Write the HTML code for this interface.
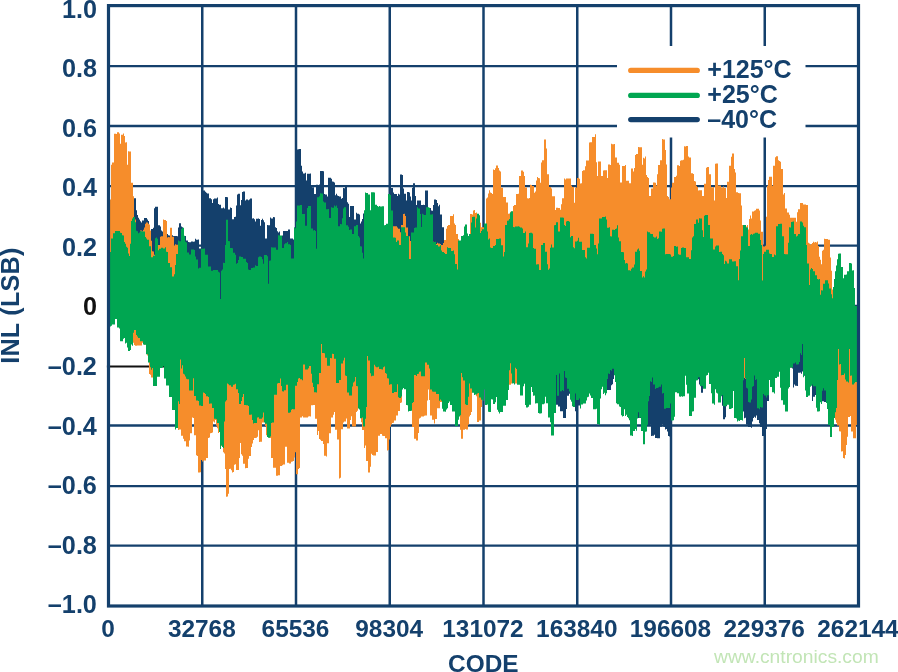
<!DOCTYPE html>
<html><head><meta charset="utf-8"><style>html,body{margin:0;padding:0;background:#fff;}body{width:898px;height:672px;position:relative;overflow:hidden;font-family:"Liberation Sans",sans-serif;}</style></head><body><svg width="898" height="672" viewBox="0 0 898 672" style="position:absolute;left:0;top:0;will-change:transform">
<rect width="898" height="672" fill="#fff"/>
<line x1="202.25" y1="5.6" x2="202.25" y2="606.0" stroke="#14406c" stroke-width="2.5"/>
<line x1="296.00" y1="5.6" x2="296.00" y2="606.0" stroke="#14406c" stroke-width="2.5"/>
<line x1="389.75" y1="5.6" x2="389.75" y2="606.0" stroke="#14406c" stroke-width="2.5"/>
<line x1="483.50" y1="5.6" x2="483.50" y2="606.0" stroke="#14406c" stroke-width="2.5"/>
<line x1="577.25" y1="5.6" x2="577.25" y2="606.0" stroke="#14406c" stroke-width="2.5"/>
<line x1="671.00" y1="5.6" x2="671.00" y2="606.0" stroke="#14406c" stroke-width="2.5"/>
<line x1="764.75" y1="5.6" x2="764.75" y2="606.0" stroke="#14406c" stroke-width="2.5"/>
<line x1="108.5" y1="66.20" x2="858.5" y2="66.20" stroke="#14406c" stroke-width="2.3"/>
<line x1="108.5" y1="126.00" x2="858.5" y2="126.00" stroke="#14406c" stroke-width="2.3"/>
<line x1="108.5" y1="186.20" x2="858.5" y2="186.20" stroke="#14406c" stroke-width="2.3"/>
<line x1="108.5" y1="245.70" x2="858.5" y2="245.70" stroke="#14406c" stroke-width="2.3"/>
<line x1="108.5" y1="306.00" x2="858.5" y2="306.00" stroke="#14406c" stroke-width="2.3"/>
<line x1="106.9" y1="366.50" x2="858.5" y2="366.50" stroke="#111" stroke-width="1.8"/>
<line x1="108.5" y1="425.50" x2="858.5" y2="425.50" stroke="#14406c" stroke-width="2.3"/>
<line x1="108.5" y1="486.20" x2="858.5" y2="486.20" stroke="#14406c" stroke-width="2.3"/>
<line x1="108.5" y1="545.70" x2="858.5" y2="545.70" stroke="#14406c" stroke-width="2.3"/>
<rect x="617" y="46" width="188.5" height="91.5" fill="#fff"/>
<path d="M109,298.1L109,298.1L110,298.1L110,289.5L111,289.5L111,280.8L112,280.8L112,280.8L113,280.8L113,279.5L114,279.5L114,276.7L115,276.7L115,275.0L116,275.0L116,275.0L117,275.0L117,275.6L118,275.6L118,279.4L119,279.4L119,279.7L120,279.7L120,281.0L121,281.0L121,287.4L122,287.4L122,287.3L123,287.3L123,287.3L124,287.3L124,290.0L125,290.0L125,291.3L126,291.3L126,295.1L127,295.1L127,296.3L128,296.3L128,301.5L129,301.5L129,303.5L130,303.5L130,295.0L131,295.0L131,283.6L132,283.6L132,218.5L133,218.5L133,198.3L134,198.3L134,198.3L135,198.3L135,198.3L136,198.3L136,210.2L137,210.2L137,214.9L138,214.9L138,217.7L139,217.7L139,219.5L140,219.5L140,221.3L141,221.3L141,222.5L142,222.5L142,220.5L143,220.5L143,220.5L144,220.5L144,218.1L145,218.1L145,218.1L146,218.1L146,218.1L147,218.1L147,219.4L148,219.4L148,221.0L149,221.0L149,226.3L150,226.3L150,231.1L151,231.1L151,229.1L152,229.1L152,229.1L153,229.1L153,227.7L154,227.7L154,208.2L155,208.2L155,206.8L156,206.8L156,206.8L157,206.8L157,206.8L158,206.8L158,225.2L159,225.2L159,225.2L160,225.2L160,226.6L161,226.6L161,230.6L162,230.6L162,231.6L163,231.6L163,232.4L164,232.4L164,233.2L165,233.2L165,233.5L166,233.5L166,234.2L167,234.2L167,234.0L168,234.0L168,235.3L169,235.3L169,235.5L170,235.5L170,235.7L171,235.7L171,235.0L172,235.0L172,235.2L173,235.2L173,235.9L174,235.9L174,236.1L175,236.1L175,235.9L176,235.9L176,236.0L177,236.0L177,236.2L178,236.2L178,227.4L179,227.4L179,223.2L180,223.2L180,223.2L181,223.2L181,226.5L182,226.5L182,227.2L183,227.2L183,236.1L184,236.1L184,236.1L185,236.1L185,236.1L186,236.1L186,240.6L187,240.6L187,240.5L188,240.5L188,242.1L189,242.1L189,242.3L190,242.3L190,242.2L191,242.2L191,241.4L192,241.4L192,241.6L193,241.6L193,241.8L194,241.8L194,241.6L195,241.6L195,238.7L196,238.7L196,239.8L197,239.8L197,239.8L198,239.8L198,239.6L199,239.6L199,248.6L200,248.6L200,248.6L201,248.6L201,191.1L202,191.1L202,190.5L203,190.5L203,190.5L204,190.5L204,190.5L205,190.5L205,191.8L206,191.8L206,192.7L207,192.7L207,193.6L208,193.6L208,193.6L209,193.6L209,198.2L210,198.2L210,198.2L211,198.2L211,199.2L212,199.2L212,202.9L213,202.9L213,199.3L214,199.3L214,198.5L215,198.5L215,198.5L216,198.5L216,198.5L217,198.5L217,197.4L218,197.4L218,204.1L219,204.1L219,204.8L220,204.8L220,204.8L221,204.8L221,208.2L222,208.2L222,208.2L223,208.2L223,207.4L224,207.4L224,208.5L225,208.5L225,197.0L226,197.0L226,197.0L227,197.0L227,197.3L228,197.3L228,209.5L229,209.5L229,209.5L230,209.5L230,207.5L231,207.5L231,208.0L232,208.0L232,219.3L233,219.3L233,219.3L234,219.3L234,217.0L235,217.0L235,216.7L236,216.7L236,205.5L237,205.5L237,194.4L238,194.4L238,193.7L239,193.7L239,193.7L240,193.7L240,205.3L241,205.3L241,200.1L242,200.1L242,192.1L243,192.1L243,191.4L244,191.4L244,191.4L245,191.4L245,200.6L246,200.6L246,199.5L247,199.5L247,199.5L248,199.5L248,200.2L249,200.2L249,199.4L250,199.4L250,198.4L251,198.4L251,198.4L252,198.4L252,218.5L253,218.5L253,218.3L254,218.3L254,219.2L255,219.2L255,221.6L256,221.6L256,218.8L257,218.8L257,218.8L258,218.8L258,218.6L259,218.6L259,219.0L260,219.0L260,225.7L261,225.7L261,220.1L262,220.1L262,218.8L263,218.8L263,220.3L264,220.3L264,222.3L265,222.3L265,238.4L266,238.4L266,238.4L267,238.4L267,225.0L268,225.0L268,225.3L269,225.3L269,225.3L270,225.3L270,217.5L271,217.5L271,218.5L272,218.5L272,218.5L273,218.5L273,217.1L274,217.1L274,217.2L275,217.2L275,227.2L276,227.2L276,227.9L277,227.9L277,231.3L278,231.3L278,232.6L279,232.6L279,231.6L280,231.6L280,236.1L281,236.1L281,237.0L282,237.0L282,235.5L283,235.5L283,230.9L284,230.9L284,230.9L285,230.9L285,231.0L286,231.0L286,231.0L287,231.0L287,231.0L288,231.0L288,229.5L289,229.5L289,229.5L290,229.5L290,238.6L291,238.6L291,238.6L292,238.6L292,238.6L293,238.6L293,239.5L294,239.5L294,245.6L295,245.6L295,245.6L296,245.6L296,149.4L297,149.4L297,149.4L298,149.4L298,149.2L299,149.2L299,149.1L300,149.1L300,149.1L301,149.1L301,165.8L302,165.8L302,171.4L303,171.4L303,173.6L304,173.6L304,173.6L305,173.6L305,172.8L306,172.8L306,180.4L307,180.4L307,173.7L308,173.7L308,173.7L309,173.7L309,173.7L310,173.7L310,173.5L311,173.5L311,187.1L312,187.1L312,187.2L313,187.2L313,187.2L314,187.2L314,193.9L315,193.9L315,194.1L316,194.1L316,184.8L317,184.8L317,184.8L318,184.8L318,185.2L319,185.2L319,184.4L320,184.4L320,171.0L321,171.0L321,171.0L322,171.0L322,170.9L323,170.9L323,171.3L324,171.3L324,194.1L325,194.1L325,194.4L326,194.4L326,194.4L327,194.4L327,196.6L328,196.6L328,177.7L329,177.7L329,177.7L330,177.7L330,177.7L331,177.7L331,178.7L332,178.7L332,181.4L333,181.4L333,181.8L334,181.8L334,182.6L335,182.6L335,195.2L336,195.2L336,193.7L337,193.7L337,195.5L338,195.5L338,195.9L339,195.9L339,196.6L340,196.6L340,196.6L341,196.6L341,198.8L342,198.8L342,198.1L343,198.1L343,188.1L344,188.1L344,188.2L345,188.2L345,185.4L346,185.4L346,185.4L347,185.4L347,202.2L348,202.2L348,203.7L349,203.7L349,217.1L350,217.1L350,206.1L351,206.1L351,206.1L352,206.1L352,206.1L353,206.1L353,206.0L354,206.0L354,219.5L355,219.5L355,219.5L356,219.5L356,212.8L357,212.8L357,213.8L358,213.8L358,213.8L359,213.8L359,214.4L360,214.4L360,223.4L361,223.4L361,221.4L362,221.4L362,219.1L363,219.1L363,213.6L364,213.6L364,213.5L365,213.5L365,300.9L366,300.9L366,275.0L367,275.0L367,274.4L368,274.4L368,275.5L369,275.5L369,278.5L370,278.5L370,286.3L371,286.3L371,285.5L372,285.5L372,284.4L373,284.4L373,276.9L374,276.9L374,279.0L375,279.0L375,285.0L376,285.0L376,285.7L377,285.7L377,286.2L378,286.2L378,286.6L379,286.6L379,286.6L380,286.6L380,287.7L381,287.7L381,287.7L382,287.7L382,285.8L383,285.8L383,286.7L384,286.7L384,296.1L385,296.1L385,296.1L386,296.1L386,298.3L387,298.3L387,298.4L388,298.4L388,223.3L389,223.3L389,188.3L390,188.3L390,188.3L391,188.3L391,187.9L392,187.9L392,187.9L393,187.9L393,192.4L394,192.4L394,194.1L395,194.1L395,194.1L396,194.1L396,194.0L397,194.0L397,196.0L398,196.0L398,193.8L399,193.8L399,194.6L400,194.6L400,174.5L401,174.5L401,174.5L402,174.5L402,175.1L403,175.1L403,188.5L404,188.5L404,193.7L405,193.7L405,193.7L406,193.7L406,200.4L407,200.4L407,192.1L408,192.1L408,192.1L409,192.1L409,192.4L410,192.4L410,196.5L411,196.5L411,200.4L412,200.4L412,187.8L413,187.8L413,183.2L414,183.2L414,183.2L415,183.2L415,196.1L416,196.1L416,205.1L417,205.1L417,200.6L418,200.6L418,200.6L419,200.6L419,200.5L420,200.5L420,200.5L421,200.5L421,205.0L422,205.0L422,205.1L423,205.1L423,204.8L424,204.8L424,205.0L425,205.0L425,190.6L426,190.6L426,190.6L427,190.6L427,190.6L428,190.6L428,208.0L429,208.0L429,208.0L430,208.0L430,208.0L431,208.0L431,210.4L432,210.4L432,210.8L433,210.8L433,205.0L434,205.0L434,199.6L435,199.6L435,199.6L436,199.6L436,199.9L437,199.9L437,203.0L438,203.0L438,206.2L439,206.2L439,204.8L440,204.8L440,214.4L441,214.4L441,214.4L442,214.4L442,227.2L443,227.2L443,227.2L444,227.2L444,240.6L445,240.6L445,240.6L446,240.6L446,331.8L447,331.8L447,326.6L448,326.6L448,325.1L449,325.1L449,325.1L450,325.1L450,325.2L451,325.2L451,327.4L452,327.4L452,327.4L453,327.4L453,332.0L454,332.0L454,333.9L455,333.9L455,338.7L456,338.7L456,346.3L457,346.3L457,346.7L458,346.7L458,328.6L459,328.6L459,328.5L460,328.5L460,307.4L461,307.4L461,305.1L462,305.1L462,305.9L463,305.9L463,306.7L464,306.7L464,303.4L465,303.4L465,303.4L466,303.4L466,315.8L467,315.8L467,316.8L468,316.8L468,310.2L469,310.2L469,309.0L470,309.0L470,309.4L471,309.4L471,306.1L472,306.1L472,304.7L473,304.7L473,304.7L474,304.7L474,305.0L475,305.0L475,311.2L476,311.2L476,306.1L477,306.1L477,305.4L478,305.4L478,303.9L479,303.9L479,305.4L480,305.4L480,315.1L481,315.1L481,315.1L482,315.1L482,315.1L483,315.1L483,309.6L484,309.6L484,307.6L485,307.6L485,306.2L486,306.2L486,314.0L487,314.0L487,317.9L488,317.9L488,321.9L489,321.9L489,325.2L490,325.2L490,324.9L491,324.9L491,323.5L492,323.5L492,323.5L493,323.5L493,323.5L494,323.5L494,324.0L495,324.0L495,322.7L496,322.7L496,318.7L497,318.7L497,318.7L498,318.7L498,323.0L499,323.0L499,324.0L500,324.0L500,324.9L501,324.9L501,328.8L502,328.8L502,330.3L503,330.3L503,331.0L504,331.0L504,329.3L505,329.3L505,313.1L506,313.1L506,312.6L507,312.6L507,306.2L508,306.2L508,296.4L509,296.4L509,293.0L510,293.0L510,289.9L511,289.9L511,289.9L512,289.9L512,294.4L513,294.4L513,305.8L514,305.8L514,298.3L515,298.3L515,297.0L516,297.0L516,297.0L517,297.0L517,297.6L518,297.6L518,305.4L519,305.4L519,305.6L520,305.6L520,305.9L521,305.9L521,311.5L522,311.5L522,309.5L523,309.5L523,308.2L524,308.2L524,308.2L525,308.2L525,308.5L526,308.5L526,326.6L527,326.6L527,326.2L528,326.2L528,324.1L529,324.1L529,318.8L530,318.8L530,309.7L531,309.7L531,309.8L532,309.8L532,309.7L533,309.7L533,320.0L534,320.0L534,321.6L535,321.6L535,321.9L536,321.9L536,333.3L537,333.3L537,333.3L538,333.3L538,334.0L539,334.0L539,341.7L540,341.7L540,341.7L541,341.7L541,324.7L542,324.7L542,324.4L543,324.4L543,324.4L544,324.4L544,324.4L545,324.4L545,324.9L546,324.9L546,324.9L547,324.9L547,334.5L548,334.5L548,337.2L549,337.2L549,343.9L550,343.9L550,338.0L551,338.0L551,338.0L552,338.0L552,341.7L553,341.7L553,330.5L554,330.5L554,319.3L555,319.3L555,300.2L556,300.2L556,300.2L557,300.2L557,300.2L558,300.2L558,302.7L559,302.7L559,302.8L560,302.8L560,302.8L561,302.8L561,304.0L562,304.0L562,304.1L563,304.1L563,297.6L564,297.6L564,297.5L565,297.5L565,299.6L566,299.6L566,300.7L567,300.7L567,300.7L568,300.7L568,305.9L569,305.9L569,305.9L570,305.9L570,315.4L571,315.4L571,319.2L572,319.2L572,319.8L573,319.8L573,327.7L574,327.7L574,321.4L575,321.4L575,318.1L576,318.1L576,318.0L577,318.0L577,321.4L578,321.4L578,319.7L579,319.7L579,319.1L580,319.1L580,320.0L581,320.0L581,325.0L582,325.0L582,327.1L583,327.1L583,327.1L584,327.1L584,327.2L585,327.2L585,329.9L586,329.9L586,328.3L587,328.3L587,323.6L588,323.6L588,321.3L589,321.3L589,320.4L590,320.4L590,314.9L591,314.9L591,314.9L592,314.9L592,316.0L593,316.0L593,316.0L594,316.0L594,327.1L595,327.1L595,326.4L596,326.4L596,328.1L597,328.1L597,332.3L598,332.3L598,334.5L599,334.5L599,309.9L600,309.9L600,305.3L601,305.3L601,302.6L602,302.6L602,301.5L603,301.5L603,302.6L604,302.6L604,304.8L605,304.8L605,303.0L606,303.0L606,301.8L607,301.8L607,299.0L608,299.0L608,299.0L609,299.0L609,300.9L610,300.9L610,303.4L611,303.4L611,302.0L612,302.0L612,298.7L613,298.7L613,298.4L614,298.4L614,298.4L615,298.4L615,303.0L616,303.0L616,306.9L617,306.9L617,316.7L618,316.7L618,322.7L619,322.7L619,322.8L620,322.8L620,324.2L621,324.2L621,329.7L622,329.7L622,333.5L623,333.5L623,333.8L624,333.8L624,334.3L625,334.3L625,336.1L626,336.1L626,339.4L627,339.4L627,340.2L628,340.2L628,343.9L629,343.9L629,341.6L630,341.6L630,342.9L631,342.9L631,349.4L632,349.4L632,347.2L633,347.2L633,349.5L634,349.5L634,347.5L635,347.5L635,340.8L636,340.8L636,334.7L637,334.7L637,326.7L638,326.7L638,326.7L639,326.7L639,330.2L640,330.2L640,343.9L641,343.9L641,343.9L642,343.9L642,353.9L643,353.9L643,354.0L644,354.0L644,354.1L645,354.1L645,352.3L646,352.3L646,348.6L647,348.6L647,317.2L648,317.2L648,314.6L649,314.6L649,308.0L650,308.0L650,308.0L651,308.0L651,306.1L652,306.1L652,307.2L653,307.2L653,307.3L654,307.3L654,311.1L655,311.1L655,311.5L656,311.5L656,313.8L657,313.8L657,314.2L658,314.2L658,312.6L659,312.6L659,309.3L660,309.3L660,308.2L661,308.2L661,308.0L662,308.0L662,308.0L663,308.0L663,311.0L664,311.0L664,311.7L665,311.7L665,332.1L666,332.1L666,332.1L667,332.1L667,332.1L668,332.1L668,331.8L669,331.8L669,329.5L670,329.5L670,329.5L671,329.5L671,330.8L672,330.8L672,338.6L673,338.6L673,338.7L674,338.7L674,321.4L675,321.4L675,319.9L676,319.9L676,319.9L677,319.9L677,320.9L678,320.9L678,323.8L679,323.8L679,322.7L680,322.7L680,325.5L681,325.5L681,320.7L682,320.7L682,321.6L683,321.6L683,321.6L684,321.6L684,311.5L685,311.5L685,312.5L686,312.5L686,316.9L687,316.9L687,321.7L688,321.7L688,324.9L689,324.9L689,327.3L690,327.3L690,337.2L691,337.2L691,330.2L692,330.2L692,324.5L693,324.5L693,317.9L694,317.9L694,311.6L695,311.6L695,302.6L696,302.6L696,299.9L697,299.9L697,293.8L698,293.8L698,293.8L699,293.8L699,299.6L700,299.6L700,299.6L701,299.6L701,304.1L702,304.1L702,308.9L703,308.9L703,312.1L704,312.1L704,302.4L705,302.4L705,295.6L706,295.6L706,295.3L707,295.3L707,296.6L708,296.6L708,299.2L709,299.2L709,296.7L710,296.7L710,311.5L711,311.5L711,312.0L712,312.0L712,316.6L713,316.6L713,327.1L714,327.1L714,319.4L715,319.4L715,317.8L716,317.8L716,317.8L717,317.8L717,319.3L718,319.3L718,316.9L719,316.9L719,327.1L720,327.1L720,322.1L721,322.1L721,324.5L722,324.5L722,325.1L723,325.1L723,325.8L724,325.8L724,335.8L725,335.8L725,335.6L726,335.6L726,334.8L727,334.8L727,334.2L728,334.2L728,334.2L729,334.2L729,334.2L730,334.2L730,335.3L731,335.3L731,334.8L732,334.8L732,326.4L733,326.4L733,326.4L734,326.4L734,326.4L735,326.4L735,339.8L736,339.8L736,342.0L737,342.0L737,341.8L738,341.8L738,350.3L739,350.3L739,340.1L740,340.1L740,335.6L741,335.6L741,329.5L742,329.5L742,309.4L743,309.4L743,293.3L744,293.3L744,292.8L745,292.8L745,292.8L746,292.8L746,304.6L747,304.6L747,308.2L748,308.2L748,317.1L749,317.1L749,323.8L750,323.8L750,317.3L751,317.3L751,310.9L752,310.9L752,310.9L753,310.9L753,304.7L754,304.7L754,304.7L755,304.7L755,305.3L756,305.3L756,307.6L757,307.6L757,307.6L758,307.6L758,321.6L759,321.6L759,321.6L760,321.6L760,320.4L761,320.4L761,322.4L762,322.4L762,333.3L763,333.3L763,322.7L764,322.7L764,322.7L765,322.7L765,323.8L766,323.8L766,321.7L767,321.7L767,322.4L768,322.4L768,315.8L769,315.8L769,315.8L770,315.8L770,317.7L771,317.7L771,321.2L772,321.2L772,322.2L773,322.2L773,324.9L774,324.9L774,316.0L775,316.0L775,316.0L776,316.0L776,300.9L777,300.9L777,300.9L778,300.9L778,299.4L779,299.4L779,296.6L780,296.6L780,296.6L781,296.6L781,306.0L782,306.0L782,318.2L783,318.2L783,318.6L784,318.6L784,329.7L785,329.7L785,333.0L786,333.0L786,332.7L787,332.7L787,322.2L788,322.2L788,316.1L789,316.1L789,297.2L790,297.2L790,295.9L791,295.9L791,293.7L792,293.7L792,293.1L793,293.1L793,293.9L794,293.9L794,299.1L795,299.1L795,299.1L796,299.1L796,299.6L797,299.6L797,296.8L798,296.8L798,295.4L799,295.4L799,291.1L800,291.1L800,287.5L801,287.5L801,282.0L802,282.0L802,282.0L803,282.0L803,285.0L804,285.0L804,302.6L805,302.6L805,301.5L806,301.5L806,318.4L807,318.4L807,330.2L808,330.2L808,328.0L809,328.0L809,333.0L810,333.0L810,327.9L811,327.9L811,326.3L812,326.3L812,325.1L813,325.1L813,326.2L814,326.2L814,329.0L815,329.0L815,331.2L816,331.2L816,331.2L817,331.2L817,343.7L818,343.7L818,345.3L819,345.3L819,345.4L820,345.4L820,348.7L821,348.7L821,339.8L822,339.8L822,339.9L823,339.9L823,337.9L824,337.9L824,337.9L825,337.9L825,337.1L826,337.1L826,337.1L827,337.1L827,342.9L828,342.9L828,347.7L829,347.7L829,356.5L830,356.5L830,356.9L831,356.9L831,367.7L832,367.7L832,363.3L833,363.3L833,353.3L834,353.3L834,347.1L835,347.1L835,340.0L836,340.0L836,323.7L837,323.7L837,304.4L838,304.4L838,301.6L839,301.6L839,302.7L840,302.7L840,310.5L841,310.5L841,315.8L842,315.8L842,321.4L843,321.4L843,325.8L844,325.8L844,324.7L845,324.7L845,325.9L846,325.9L846,327.7L847,327.7L847,326.4L848,326.4L848,309.7L849,309.7L849,306.1L850,306.1L850,306.1L851,306.1L851,319.8L852,319.8L852,323.4L853,323.4L853,327.5L854,327.5L854,336.4L855,336.4L855,344.2L856,344.2L856,326.9L857,326.9L857,326.3L858,326.3L858,326.3L859,326.3L859,326.3L858,326.3L858,326.3L857,326.3L857,344.2L856,344.2L856,344.2L855,344.2L855,343.4L854,343.4L854,335.6L853,335.6L853,326.4L852,326.4L852,321.7L851,321.7L851,318.1L850,318.1L850,308.3L849,308.3L849,326.0L848,326.0L848,327.7L847,327.7L847,328.0L846,328.0L846,327.3L845,327.3L845,325.8L844,325.8L844,326.3L843,326.3L843,326.3L842,326.3L842,320.7L841,320.7L841,315.1L840,315.1L840,308.9L839,308.9L839,303.9L838,303.9L838,323.1L837,323.1L837,339.5L836,339.5L836,345.6L835,345.6L835,351.3L834,351.3L834,361.3L833,361.3L833,376.1L832,376.1L832,376.1L831,376.1L831,366.7L830,366.7L830,356.5L829,356.5L829,355.9L828,355.9L828,392.0L827,392.0L827,402.0L826,402.0L826,402.0L825,402.0L825,402.0L824,402.0L824,401.3L823,401.3L823,401.3L822,401.3L822,347.3L821,347.3L821,348.7L820,348.7L820,348.6L819,348.6L819,345.3L818,345.3L818,344.3L817,344.3L817,342.2L816,342.2L816,394.9L815,394.9L815,396.8L814,396.8L814,396.8L813,396.8L813,401.0L812,401.0L812,326.9L811,326.9L811,337.4L810,337.4L810,342.3L809,342.3L809,339.0L808,339.0L808,330.2L807,330.2L807,329.1L806,329.1L806,364.6L805,364.6L805,375.7L804,375.7L804,377.1L803,377.1L803,371.5L802,371.5L802,373.8L801,373.8L801,372.4L800,372.4L800,372.7L799,372.7L799,372.7L798,372.7L798,386.1L797,386.1L797,385.7L796,385.7L796,385.7L795,385.7L795,384.5L794,384.5L794,387.5L793,387.5L793,368.5L792,368.5L792,295.8L791,295.8L791,295.9L790,295.9L790,314.7L789,314.7L789,321.0L788,321.0L788,332.6L787,332.6L787,332.7L786,332.7L786,344.2L785,344.2L785,342.7L784,342.7L784,327.9L783,327.9L783,318.2L782,318.2L782,320.5L781,320.5L781,308.1L780,308.1L780,297.3L779,297.3L779,300.9L778,300.9L778,300.9L777,300.9L777,315.9L776,315.9L776,316.0L775,316.0L775,324.8L774,324.8L774,324.9L773,324.9L773,324.9L772,324.9L772,321.6L771,321.6L771,320.4L770,320.4L770,319.9L769,319.9L769,401.1L768,401.1L768,401.1L767,401.1L767,429.1L766,429.1L766,429.1L765,429.1L765,435.3L764,435.3L764,436.1L763,436.1L763,436.1L762,436.1L762,427.1L761,427.1L761,427.1L760,427.1L760,423.2L759,423.2L759,419.9L758,419.9L758,420.0L757,420.0L757,415.4L756,415.4L756,417.7L755,417.7L755,416.8L754,416.8L754,417.9L753,417.9L753,421.4L752,421.4L752,427.8L751,427.8L751,427.1L750,427.1L750,427.1L749,427.1L749,426.9L748,426.9L748,424.7L747,424.7L747,424.4L746,424.4L746,417.7L745,417.7L745,418.2L744,418.2L744,411.5L743,411.5L743,411.5L742,411.5L742,380.3L741,380.3L741,338.7L740,338.7L740,349.5L739,349.5L739,356.5L738,356.5L738,357.2L737,357.2L737,342.2L736,342.2L736,341.6L735,341.6L735,339.0L734,339.0L734,326.4L733,326.4L733,334.7L732,334.7L732,335.3L731,335.3L731,335.3L730,335.3L730,335.3L729,335.3L729,334.2L728,334.2L728,334.2L727,334.2L727,406.2L726,406.2L726,417.3L725,417.3L725,419.2L724,419.2L724,419.2L723,419.2L723,405.8L722,405.8L722,324.9L721,324.9L721,325.8L720,325.8L720,327.1L719,327.1L719,326.0L718,326.0L718,319.3L717,319.3L717,318.2L716,318.2L716,318.8L715,318.8L715,326.8L714,326.8L714,327.1L713,327.1L713,327.3L712,327.3L712,316.3L711,316.3L711,311.5L710,311.5L710,311.4L709,311.4L709,299.2L708,299.2L708,299.1L707,299.1L707,295.3L706,295.3L706,304.1L705,304.1L705,311.2L704,311.2L704,385.6L703,385.6L703,392.7L702,392.7L702,392.7L701,392.7L701,386.0L700,386.0L700,384.4L699,384.4L699,379.2L698,379.2L698,378.0L697,378.0L697,380.3L696,380.3L696,378.9L695,378.9L695,315.8L694,315.8L694,322.5L693,322.5L693,330.0L692,330.0L692,337.0L691,337.0L691,337.2L690,337.2L690,337.2L689,337.2L689,326.0L688,326.0L688,324.9L687,324.9L687,320.4L686,320.4L686,316.0L685,316.0L685,321.5L684,321.5L684,321.6L683,321.6L683,321.8L682,321.8L682,325.1L681,325.1L681,325.5L680,325.5L680,324.9L679,324.9L679,323.8L678,323.8L678,322.4L677,322.4L677,319.9L676,319.9L676,319.9L675,319.9L675,336.7L674,336.7L674,417.8L673,417.8L673,419.8L672,419.8L672,436.6L671,436.6L671,436.6L670,436.6L670,436.4L669,436.4L669,436.0L668,436.0L668,431.4L667,431.4L667,428.9L666,428.9L666,429.4L665,429.4L665,427.1L664,427.1L664,426.4L663,426.4L663,424.2L662,424.2L662,426.8L661,426.8L661,426.8L660,426.8L660,438.3L659,438.3L659,438.3L658,438.3L658,438.3L657,438.3L657,438.1L656,438.1L656,438.1L655,438.1L655,434.8L654,434.8L654,435.8L653,435.8L653,435.8L652,435.8L652,435.9L651,435.9L651,424.7L650,424.7L650,424.9L649,424.9L649,424.9L648,424.9L648,424.9L647,424.9L647,350.8L646,350.8L646,353.9L645,353.9L645,372.7L644,372.7L644,374.8L643,374.8L643,353.9L642,353.9L642,417.6L641,417.6L641,418.1L640,418.1L640,418.1L639,418.1L639,418.1L638,418.1L638,417.0L637,417.0L637,339.4L636,339.4L636,345.7L635,345.7L635,349.4L634,349.4L634,349.5L633,349.5L633,351.6L632,351.6L632,352.2L631,352.2L631,352.2L630,352.2L630,344.6L629,344.6L629,343.9L628,343.9L628,343.6L627,343.6L627,339.4L626,339.4L626,339.2L625,339.2L625,335.9L624,335.9L624,334.2L623,334.2L623,333.8L622,333.8L622,332.9L621,332.9L621,328.8L620,328.8L620,323.8L619,323.8L619,322.7L618,322.7L618,321.1L617,321.1L617,314.9L616,314.9L616,304.2L615,304.2L615,367.5L614,367.5L614,378.9L613,378.9L613,384.2L612,384.2L612,385.3L611,385.3L611,389.9L610,389.9L610,389.9L609,389.9L609,390.1L608,390.1L608,390.1L607,390.1L607,306.2L606,306.2L606,306.2L605,306.2L605,304.8L604,304.8L604,304.2L603,304.2L603,302.6L602,302.6L602,303.7L601,303.7L601,307.9L600,307.9L600,333.4L599,333.4L599,338.8L598,338.8L598,338.8L597,338.8L597,330.8L596,330.8L596,327.8L595,327.8L595,327.1L594,327.1L594,327.1L593,327.1L593,316.0L592,316.0L592,315.8L591,315.8L591,320.3L590,320.3L590,320.4L589,320.4L589,321.9L588,321.9L588,327.9L587,327.9L587,329.6L586,329.6L586,330.7L585,330.7L585,330.9L584,330.9L584,327.1L583,327.1L583,327.7L582,327.7L582,327.4L581,327.4L581,394.5L580,394.5L580,405.6L579,405.6L579,405.6L578,405.6L578,411.3L577,411.3L577,411.3L576,411.3L576,411.3L575,411.3L575,406.6L574,406.6L574,406.6L573,406.6L573,402.2L572,402.2L572,401.2L571,401.2L571,399.6L570,399.6L570,393.7L569,393.7L569,395.8L568,395.8L568,395.8L567,395.8L567,409.1L566,409.1L566,418.0L565,418.0L565,417.9L564,417.9L564,417.9L563,417.9L563,411.3L562,411.3L562,411.3L561,411.3L561,411.3L560,411.3L560,406.6L559,406.6L559,406.6L558,406.6L558,404.8L557,404.8L557,404.7L556,404.7L556,375.7L555,375.7L555,330.4L554,330.4L554,341.1L553,341.1L553,341.7L552,341.7L552,341.1L551,341.1L551,343.8L550,343.8L550,343.9L549,343.9L549,343.8L548,343.8L548,336.6L547,336.6L547,334.0L546,334.0L546,324.9L545,324.9L545,324.9L544,324.9L544,324.4L543,324.4L543,324.4L542,324.4L542,341.5L541,341.5L541,341.7L540,341.7L540,341.7L539,341.7L539,341.6L538,341.6L538,333.3L537,333.3L537,333.3L536,333.3L536,332.7L535,332.7L535,321.6L534,321.6L534,321.3L533,321.3L533,319.6L532,319.6L532,309.8L531,309.8L531,318.7L530,318.7L530,322.9L529,322.9L529,325.1L528,325.1L528,326.6L527,326.6L527,326.6L526,326.6L526,325.4L525,325.4L525,308.2L524,308.2L524,311.1L523,311.1L523,313.2L522,313.2L522,311.5L521,311.5L521,311.1L520,311.1L520,305.9L519,305.9L519,305.6L518,305.6L518,305.1L517,305.1L517,297.6L516,297.6L516,297.6L515,297.6L515,305.9L514,305.9L514,305.9L513,305.9L513,304.5L512,304.5L512,292.4L511,292.4L511,290.5L510,290.5L510,294.9L509,294.9L509,304.8L508,304.8L508,312.5L507,312.5L507,312.6L506,312.6L506,328.7L505,328.7L505,330.5L504,330.5L504,331.0L503,331.0L503,330.5L502,330.5L502,328.8L501,328.8L501,328.5L500,328.5L500,324.9L499,324.9L499,324.0L498,324.0L498,321.7L497,321.7L497,321.2L496,321.2L496,324.0L495,324.0L495,324.0L494,324.0L494,324.0L493,324.0L493,323.5L492,323.5L492,323.5L491,323.5L491,329.6L490,329.6L490,329.5L489,329.5L489,325.0L488,325.0L488,321.7L487,321.7L487,317.9L486,317.9L486,313.3L485,313.3L485,308.9L484,308.9L484,314.4L483,314.4L483,315.6L482,315.6L482,315.6L481,315.6L481,315.1L480,315.1L480,315.4L479,315.4L479,303.9L478,303.9L478,306.4L477,306.4L477,311.1L476,311.1L476,311.2L475,311.2L475,311.1L474,311.1L474,304.7L473,304.7L473,305.6L472,305.6L472,310.9L471,310.9L471,310.9L470,310.9L470,310.1L469,310.1L469,316.1L468,316.1L468,319.6L467,319.6L467,319.6L466,319.6L466,317.6L465,317.6L465,309.6L464,309.6L464,307.7L463,307.7L463,306.6L462,306.6L462,307.0L461,307.0L461,327.9L460,327.9L460,328.5L459,328.5L459,344.6L458,344.6L458,348.4L457,348.4L457,347.9L456,347.9L456,344.6L455,344.6L455,337.3L454,337.3L454,332.5L453,332.5L453,330.7L452,330.7L452,327.4L451,327.4L451,327.3L450,327.3L450,325.1L449,325.1L449,325.9L448,325.9L448,331.4L447,331.4L447,331.8L446,331.8L446,332.5L445,332.5L445,332.8L444,332.8L444,331.3L443,331.3L443,329.5L442,329.5L442,326.2L441,326.2L441,326.0L440,326.0L440,323.6L439,323.6L439,319.6L438,319.6L438,318.3L437,318.3L437,318.3L436,318.3L436,318.4L435,318.4L435,316.8L434,316.8L434,316.8L433,316.8L433,316.5L432,316.5L432,301.5L431,301.5L431,301.4L430,301.4L430,290.9L429,290.9L429,285.8L428,285.8L428,285.5L427,285.5L427,288.3L426,288.3L426,288.8L425,288.8L425,294.9L424,294.9L424,293.7L423,293.7L423,300.9L422,300.9L422,300.9L421,300.9L421,298.9L420,298.9L420,292.3L419,292.3L419,291.8L418,291.8L418,301.8L417,301.8L417,301.6L416,301.6L416,301.7L415,301.7L415,303.9L414,303.9L414,317.0L413,317.0L413,317.3L412,317.3L412,335.1L411,335.1L411,333.8L410,333.8L410,333.8L409,333.8L409,333.7L408,333.7L408,319.2L407,319.2L407,320.2L406,320.2L406,312.4L405,312.4L405,313.7L404,313.7L404,310.4L403,310.4L403,308.4L402,308.4L402,320.8L401,320.8L401,321.8L400,321.8L400,320.7L399,320.7L399,320.7L398,320.7L398,311.7L397,311.7L397,316.5L396,316.5L396,316.5L395,316.5L395,314.0L394,314.0L394,314.0L393,314.0L393,314.0L392,314.0L392,297.2L391,297.2L391,297.2L390,297.2L390,289.1L389,289.1L389,300.4L388,300.4L388,299.4L387,299.4L387,298.9L386,298.9L386,297.8L385,297.8L385,296.1L384,296.1L384,295.1L383,295.1L383,286.3L382,286.3L382,287.7L381,287.7L381,287.7L380,287.7L380,287.7L379,287.7L379,286.6L378,286.6L378,286.6L377,286.6L377,286.2L376,286.2L376,285.7L375,285.7L375,284.2L374,284.2L374,283.7L373,283.7L373,284.4L372,284.4L372,291.4L371,291.4L371,291.4L370,291.4L370,287.3L369,287.3L369,278.8L368,278.8L368,274.9L367,274.9L367,298.4L366,298.4L366,312.7L365,312.7L365,342.7L364,342.7L364,342.7L363,342.7L363,338.3L362,338.3L362,335.1L361,335.1L361,330.6L360,330.6L360,326.9L359,326.9L359,321.3L358,321.3L358,310.2L357,310.2L357,304.7L356,304.7L356,300.2L355,300.2L355,306.9L354,306.9L354,308.1L353,308.1L353,310.1L352,310.1L352,312.5L351,312.5L351,312.5L350,312.5L350,312.5L349,312.5L349,311.7L348,311.7L348,309.7L347,309.7L347,300.0L346,300.0L346,300.4L345,300.4L345,282.6L344,282.6L344,288.9L343,288.9L343,292.2L342,292.2L342,292.2L341,292.2L341,302.8L340,302.8L340,302.8L339,302.8L339,303.8L338,303.8L338,303.8L337,303.8L337,294.9L336,294.9L336,281.5L335,281.5L335,281.3L334,281.3L334,280.3L333,280.3L333,280.2L332,280.2L332,286.9L331,286.9L331,286.9L330,286.9L330,293.4L329,293.4L329,293.4L328,293.4L328,287.3L327,287.3L327,283.1L326,283.1L326,283.1L325,283.1L325,277.5L324,277.5L324,278.2L323,278.2L323,277.1L322,277.1L322,268.7L321,268.7L321,284.7L320,284.7L320,284.8L319,284.8L319,290.4L318,290.4L318,315.2L317,315.2L317,319.1L316,319.1L316,319.9L315,319.9L315,311.0L314,311.0L314,307.9L313,307.9L313,305.6L312,305.6L312,299.8L311,299.8L311,294.8L310,294.8L310,285.9L309,285.9L309,288.2L308,288.2L308,297.1L307,297.1L307,295.8L306,295.8L306,295.8L305,295.8L305,293.6L304,293.6L304,288.8L303,288.8L303,296.6L302,296.6L302,297.2L301,297.2L301,292.7L300,292.7L300,291.4L299,291.4L299,291.4L298,291.4L298,299.7L297,299.7L297,305.1L296,305.1L296,306.6L295,306.6L295,334.5L294,334.5L294,334.5L293,334.5L293,334.5L292,334.5L292,334.5L291,334.5L291,334.5L290,334.5L290,329.1L289,329.1L289,328.6L288,328.6L288,314.6L287,314.6L287,313.0L286,313.0L286,315.8L285,315.8L285,318.6L284,318.6L284,318.6L283,318.6L283,319.3L282,319.3L282,316.7L281,316.7L281,307.0L280,307.0L280,309.3L279,309.3L279,316.5L278,316.5L278,316.2L277,316.2L277,321.8L276,321.8L276,321.4L275,321.4L275,320.5L274,320.5L274,335.1L273,335.1L273,335.1L272,335.1L272,341.8L271,341.8L271,348.5L270,348.5L270,360.0L269,360.0L269,363.0L268,363.0L268,363.0L267,363.0L267,339.4L266,339.4L266,339.0L265,339.0L265,339.0L264,339.0L264,346.0L263,346.0L263,346.0L262,346.0L262,337.3L261,337.3L261,337.8L260,337.8L260,337.8L259,337.8L259,341.1L258,341.1L258,341.1L257,341.1L257,344.5L256,344.5L256,352.0L255,352.0L255,351.0L254,351.0L254,344.5L253,344.5L253,342.8L252,342.8L252,342.3L251,342.3L251,342.3L250,342.3L250,342.3L249,342.3L249,339.2L248,339.2L248,339.5L247,339.5L247,334.4L246,334.4L246,331.8L245,331.8L245,330.1L244,330.1L244,324.5L243,324.5L243,325.8L242,325.8L242,327.7L241,327.7L241,328.7L240,328.7L240,328.7L239,328.7L239,326.4L238,326.4L238,326.4L237,326.4L237,326.2L236,326.2L236,323.4L235,323.4L235,318.9L234,318.9L234,318.3L233,318.3L233,318.3L232,318.3L232,316.6L231,316.6L231,316.6L230,316.6L230,315.6L229,315.6L229,311.7L228,311.7L228,314.5L227,314.5L227,325.1L226,325.1L226,330.6L225,330.6L225,340.7L224,340.7L224,357.2L223,357.2L223,358.1L222,358.1L222,371.6L221,371.6L221,371.6L220,371.6L220,363.9L219,363.9L219,347.5L218,347.5L218,347.5L217,347.5L217,344.1L216,344.1L216,344.4L215,344.4L215,344.4L214,344.4L214,338.8L213,338.8L213,338.6L212,338.6L212,338.6L211,338.6L211,336.0L210,336.0L210,334.4L209,334.4L209,331.1L208,331.1L208,330.4L207,330.4L207,325.5L206,325.5L206,323.8L205,323.8L205,323.3L204,323.3L204,320.3L203,320.3L203,327.0L202,327.0L202,336.5L201,336.5L201,336.7L200,336.7L200,336.7L199,336.7L199,334.4L198,334.4L198,335.3L197,335.3L197,329.5L196,329.5L196,327.3L195,327.3L195,325.5L194,325.5L194,314.3L193,314.3L193,319.9L192,319.9L192,321.9L191,321.9L191,321.9L190,321.9L190,321.9L189,321.9L189,316.4L188,316.4L188,315.3L187,315.3L187,314.8L186,314.8L186,308.6L185,308.6L185,307.5L184,307.5L184,305.1L183,305.1L183,297.0L182,297.0L182,297.8L181,297.8L181,297.8L180,297.8L180,320.7L179,320.7L179,327.4L178,327.4L178,340.8L177,340.8L177,346.5L176,346.5L176,346.5L175,346.5L175,350.0L174,350.0L174,350.0L173,350.0L173,343.3L172,343.3L172,336.6L171,336.6L171,332.2L170,332.2L170,330.7L169,330.7L169,322.9L168,322.9L168,322.9L167,322.9L167,318.7L166,318.7L166,315.4L165,315.4L165,313.1L164,313.1L164,306.0L163,306.0L163,306.3L162,306.3L162,306.6L161,306.6L161,307.8L160,307.8L160,312.9L159,312.9L159,312.2L158,312.2L158,311.5L157,311.5L157,310.6L156,310.6L156,319.7L155,319.7L155,319.7L154,319.7L154,319.4L153,319.4L153,311.8L152,311.8L152,314.4L151,314.4L151,314.4L150,314.4L150,306.1L149,306.1L149,306.3L148,306.3L148,296.5L147,296.5L147,295.2L146,295.2L146,289.5L145,289.5L145,289.5L144,289.5L144,286.9L143,286.9L143,285.2L142,285.2L142,284.6L141,284.6L141,284.6L140,284.6L140,284.0L139,284.0L139,285.4L138,285.4L138,285.4L137,285.4L137,283.4L136,283.4L136,280.1L135,280.1L135,276.1L134,276.1L134,275.3L133,275.3L133,283.0L132,283.0L132,294.4L131,294.4L131,303.7L130,303.7L130,304.9L129,304.9L129,302.4L128,302.4L128,300.3L127,300.3L127,295.6L126,295.6L126,294.6L125,294.6L125,290.8L124,290.8L124,290.0L123,290.0L123,288.3L122,288.3L122,288.3L121,288.3L121,286.4L120,286.4L120,280.0L119,280.0L119,279.4L118,279.4L118,282.0L117,282.0L117,275.0L116,275.0L116,279.2L115,279.2L115,279.4L114,279.4L114,280.8L113,280.8L113,280.8L112,280.8L112,287.0L111,287.0L111,296.6L110,296.6L110,298.1L109,298.1Z" fill="#14406c"/>
<path d="M109,199.6L109,199.6L110,199.6L110,199.6L111,199.6L111,164.7L112,164.7L112,162.5L113,162.5L113,162.5L114,162.5L114,133.7L115,133.7L115,133.7L116,133.7L116,134.0L117,134.0L117,132.3L118,132.3L118,132.3L119,132.3L119,133.4L120,133.4L120,143.8L121,143.8L121,134.8L122,134.8L122,134.8L123,134.8L123,133.6L124,133.6L124,135.9L125,135.9L125,142.5L126,142.5L126,142.3L127,142.3L127,164.7L128,164.7L128,151.3L129,151.3L129,151.5L130,151.5L130,151.5L131,151.5L131,182.8L132,182.8L132,182.8L133,182.8L133,196.2L134,196.2L134,219.2L135,219.2L135,219.4L136,219.4L136,232.8L137,232.8L137,232.8L138,232.8L138,233.9L139,233.9L139,233.9L140,233.9L140,230.6L141,230.6L141,230.6L142,230.6L142,231.1L143,231.1L143,229.8L144,229.8L144,227.6L145,227.6L145,223.8L146,223.8L146,222.5L147,222.5L147,222.5L148,222.5L148,223.8L149,223.8L149,224.5L150,224.5L150,230.5L151,230.5L151,240.7L152,240.7L152,251.2L153,251.2L153,251.6L154,251.6L154,254.8L155,254.8L155,254.8L156,254.8L156,245.2L157,245.2L157,245.2L158,245.2L158,245.0L159,245.0L159,245.0L160,245.0L160,236.7L161,236.7L161,236.2L162,236.2L162,236.2L163,236.2L163,219.4L164,219.4L164,219.9L165,219.9L165,219.9L166,219.9L166,221.0L167,221.0L167,237.4L168,237.4L168,237.0L169,237.0L169,237.3L170,237.3L170,227.7L171,227.7L171,227.7L172,227.7L172,236.8L173,236.8L173,236.8L174,236.8L174,245.4L175,245.4L175,244.3L176,244.3L176,244.7L177,244.7L177,244.7L178,244.7L178,259.2L179,259.2L179,300.0L180,300.0L180,300.0L181,300.0L181,298.1L182,298.1L182,298.1L183,298.1L183,297.1L184,297.1L184,305.2L185,305.2L185,308.5L186,308.5L186,309.6L187,309.6L187,315.7L188,315.7L188,315.5L189,315.5L189,316.6L190,316.6L190,322.2L191,322.2L191,320.4L192,320.4L192,314.9L193,314.9L193,314.9L194,314.9L194,314.9L195,314.9L195,327.1L196,327.1L196,328.0L197,328.0L197,330.2L198,330.2L198,334.7L199,334.7L199,335.3L200,335.3L200,337.5L201,337.5L201,328.0L202,328.0L202,321.8L203,321.8L203,321.8L204,321.8L204,321.4L205,321.4L205,323.4L206,323.4L206,324.0L207,324.0L207,325.7L208,325.7L208,331.2L209,331.2L209,332.0L210,332.0L210,335.3L211,335.3L211,336.7L212,336.7L212,338.9L213,338.9L213,338.9L214,338.9L214,339.6L215,339.6L215,343.0L216,343.0L216,343.0L217,343.0L217,345.2L218,345.2L218,348.6L219,348.6L219,348.6L220,348.6L220,364.9L221,364.9L221,358.9L222,358.9L222,358.9L223,358.9L223,343.8L224,343.8L224,333.8L225,333.8L225,324.9L226,324.9L226,302.1L227,302.1L227,302.1L228,302.1L228,312.7L229,312.7L229,312.1L230,312.1L230,316.0L231,316.0L231,317.5L232,317.5L232,317.5L233,317.5L233,319.2L234,319.2L234,318.5L235,318.5L235,319.5L236,319.5L236,324.1L237,324.1L237,327.3L238,327.3L238,325.7L239,325.7L239,325.2L240,325.2L240,329.0L241,329.0L241,327.1L242,327.1L242,325.9L243,325.9L243,325.9L244,325.9L244,325.7L245,325.7L245,331.2L246,331.2L246,333.0L247,333.0L247,334.6L248,334.6L248,337.9L249,337.9L249,337.8L250,337.8L250,342.3L251,342.3L251,342.6L252,342.6L252,341.6L253,341.6L253,344.3L254,344.3L254,346.0L255,346.0L255,344.7L256,344.7L256,341.4L257,341.4L257,341.4L258,341.4L258,337.1L259,337.1L259,337.1L260,337.1L260,339.4L261,339.4L261,339.4L262,339.4L262,340.2L263,340.2L263,339.7L264,339.7L264,339.7L265,339.7L265,338.9L266,338.9L266,339.7L267,339.7L267,340.8L268,340.8L268,361.2L269,361.2L269,349.2L270,349.2L270,342.5L271,342.5L271,335.8L272,335.8L272,333.5L273,333.5L273,318.9L274,318.9L274,321.2L275,321.2L275,321.2L276,321.2L276,316.7L277,316.7L277,316.7L278,316.7L278,310.4L279,310.4L279,308.1L280,308.1L280,308.1L281,308.1L281,308.6L282,308.6L282,318.2L283,318.2L283,319.6L284,319.6L284,317.3L285,317.3L285,314.5L286,314.5L286,314.9L287,314.9L287,314.9L288,314.9L288,315.5L289,315.5L289,329.4L290,329.4L290,330.6L291,330.6L291,335.7L292,335.7L292,335.7L293,335.7L293,335.5L294,335.5L294,307.9L295,307.9L295,307.9L296,307.9L296,302.1L297,302.1L297,288.9L298,288.9L298,288.9L299,288.9L299,291.8L300,291.8L300,290.9L301,290.9L301,292.1L302,292.1L302,289.4L303,289.4L303,290.2L304,290.2L304,290.2L305,290.2L305,295.8L306,295.8L306,297.2L307,297.2L307,288.3L308,288.3L308,285.4L309,285.4L309,285.4L310,285.4L310,286.1L311,286.1L311,295.0L312,295.0L312,300.1L313,300.1L313,306.6L314,306.6L314,308.7L315,308.7L315,312.0L316,312.0L316,317.1L317,317.1L317,290.7L318,290.7L318,285.1L319,285.1L319,285.1L320,285.1L320,267.4L321,267.4L321,269.3L322,269.3L322,269.3L323,269.3L323,277.4L324,277.4L324,278.5L325,278.5L325,278.5L326,278.5L326,284.1L327,284.1L327,285.1L328,285.1L328,289.0L329,289.0L329,289.7L330,289.7L330,289.7L331,289.7L331,281.9L332,281.9L332,282.1L333,282.1L333,282.1L334,282.1L334,282.2L335,282.2L335,282.7L336,282.7L336,281.9L337,281.9L337,295.5L338,295.5L338,303.3L339,303.3L339,303.3L340,303.3L340,293.1L341,293.1L341,293.3L342,293.3L342,289.5L343,289.5L343,279.8L344,279.8L344,279.8L345,279.8L345,279.8L346,279.8L346,301.2L347,301.2L347,301.2L348,301.2L348,311.0L349,311.0L349,312.4L350,312.4L350,313.6L351,313.6L351,311.7L352,311.7L352,309.7L353,309.7L353,308.9L354,308.9L354,302.3L355,302.3L355,302.3L356,302.3L356,303.1L357,303.1L357,306.2L358,306.2L358,311.8L359,311.8L359,322.9L360,322.9L360,328.4L361,328.4L361,332.9L362,332.9L362,335.3L363,335.3L363,338.6L364,338.6L364,314.3L365,314.3L365,300.0L366,300.0L366,274.6L367,274.6L367,274.7L368,274.7L368,275.2L369,275.2L369,277.9L370,277.9L370,285.7L371,285.7L371,285.2L372,285.2L372,285.3L373,285.3L373,279.7L374,279.7L374,279.2L375,279.2L375,285.3L376,285.3L376,285.9L377,285.9L377,286.4L378,286.4L378,286.8L379,286.8L379,286.6L380,286.6L380,287.7L381,287.7L381,288.6L382,288.6L382,287.5L383,287.5L383,286.7L384,286.7L384,296.2L385,296.2L385,297.3L386,297.3L386,299.5L387,299.5L387,299.5L388,299.5L388,286.7L389,286.7L389,286.7L390,286.7L390,287.0L391,287.0L391,295.0L392,295.0L392,223.8L393,223.8L393,226.3L394,226.3L394,226.3L395,226.3L395,226.3L396,226.3L396,226.3L397,226.3L397,227.4L398,227.4L398,228.7L399,228.7L399,228.7L400,228.7L400,232.3L401,232.3L401,225.1L402,225.1L402,225.1L403,225.1L403,214.0L404,214.0L404,213.8L405,213.8L405,215.9L406,215.9L406,227.4L407,227.4L407,227.4L408,227.4L408,236.3L409,236.3L409,236.3L410,236.3L410,241.1L411,241.1L411,245.7L412,245.7L412,246.4L413,246.4L413,245.9L414,245.9L414,245.9L415,245.9L415,245.9L416,245.9L416,243.5L417,243.5L417,243.0L418,243.0L418,243.0L419,243.0L419,242.9L420,242.9L420,242.9L421,242.9L421,246.1L422,246.1L422,246.1L423,246.1L423,246.1L424,246.1L424,246.0L425,246.0L425,246.0L426,246.0L426,245.6L427,245.6L427,245.2L428,245.2L428,243.4L429,243.4L429,243.0L430,243.0L430,242.7L431,242.7L431,242.7L432,242.7L432,242.3L433,242.3L433,241.8L434,241.8L434,242.8L435,242.8L435,242.8L436,242.8L436,243.9L437,243.9L437,242.8L438,242.8L438,243.6L439,243.6L439,243.6L440,243.6L440,244.1L441,244.1L441,245.1L442,245.1L442,245.1L443,245.1L443,243.0L444,243.0L444,239.9L445,239.9L445,239.9L446,239.9L446,228.7L447,228.7L447,226.0L448,226.0L448,225.0L449,225.0L449,225.0L450,225.0L450,216.1L451,216.1L451,216.1L452,216.1L452,216.1L453,216.1L453,214.2L454,214.2L454,223.6L455,223.6L455,224.9L456,224.9L456,233.9L457,233.9L457,233.9L458,233.9L458,239.1L459,239.1L459,245.4L460,245.4L460,240.9L461,240.9L461,241.6L462,241.6L462,241.2L463,241.2L463,239.9L464,239.9L464,239.3L465,239.3L465,239.6L466,239.6L466,238.3L467,238.3L467,237.6L468,237.6L468,237.5L469,237.5L469,236.2L470,236.2L470,213.9L471,213.9L471,213.9L472,213.9L472,214.5L473,214.5L473,210.5L474,210.5L474,209.9L475,209.9L475,213.1L476,213.1L476,212.6L477,212.6L477,218.9L478,218.9L478,222.8L479,222.8L479,222.8L480,222.8L480,222.7L481,222.7L481,227.2L482,227.2L482,227.2L483,227.2L483,227.2L484,227.2L484,227.2L485,227.2L485,227.2L486,227.2L486,198.4L487,198.4L487,197.5L488,197.5L488,193.5L489,193.5L489,190.2L490,190.2L490,192.6L491,192.6L491,193.0L492,193.0L492,194.1L493,194.1L493,169.6L494,169.6L494,170.1L495,170.1L495,168.3L496,168.3L496,165.5L497,165.5L497,165.5L498,165.5L498,168.0L499,168.0L499,170.4L500,170.4L500,171.4L501,171.4L501,187.8L502,187.8L502,187.8L503,187.8L503,196.9L504,196.9L504,196.9L505,196.9L505,196.9L506,196.9L506,202.6L507,202.6L507,202.6L508,202.6L508,213.8L509,213.8L509,213.6L510,213.6L510,211.8L511,211.8L511,211.7L512,211.7L512,211.7L513,211.7L513,206.0L514,206.0L514,204.9L515,204.9L515,204.9L516,204.9L516,194.1L517,194.1L517,194.1L518,194.1L518,193.8L519,193.8L519,175.9L520,175.9L520,175.9L521,175.9L521,170.4L522,170.4L522,170.4L523,170.4L523,171.8L524,171.8L524,176.1L525,176.1L525,187.4L526,187.4L526,187.4L527,187.4L527,198.2L528,198.2L528,198.5L529,198.5L529,198.1L530,198.1L530,184.7L531,184.7L531,185.0L532,185.0L532,186.0L533,186.0L533,186.0L534,186.0L534,192.7L535,192.7L535,191.5L536,191.5L536,180.4L537,180.4L537,177.0L538,177.0L538,178.0L539,178.0L539,178.2L540,178.2L540,182.7L541,182.7L541,162.4L542,162.4L542,160.2L543,160.2L543,160.2L544,160.2L544,139.6L545,139.6L545,139.6L546,139.6L546,148.6L547,148.6L547,174.3L548,174.3L548,174.3L549,174.3L549,187.0L550,187.0L550,187.0L551,187.0L551,188.6L552,188.6L552,196.3L553,196.3L553,196.3L554,196.3L554,196.3L555,196.3L555,209.9L556,209.9L556,207.7L557,207.7L557,207.7L558,207.7L558,208.0L559,208.0L559,208.0L560,208.0L560,209.8L561,209.8L561,204.2L562,204.2L562,198.2L563,198.2L563,198.2L564,198.2L564,178.5L565,178.5L565,179.4L566,179.4L566,178.5L567,178.5L567,178.5L568,178.5L568,178.5L569,178.5L569,178.6L570,178.6L570,178.6L571,178.6L571,185.6L572,185.6L572,187.0L573,187.0L573,187.1L574,187.1L574,202.7L575,202.7L575,187.5L576,187.5L576,187.5L577,187.5L577,178.1L578,178.1L578,177.8L579,177.8L579,178.7L580,178.7L580,183.6L581,183.6L581,183.2L582,183.2L582,170.9L583,170.9L583,170.2L584,170.2L584,170.2L585,170.2L585,166.3L586,166.3L586,160.5L587,160.5L587,160.5L588,160.5L588,160.4L589,160.4L589,142.6L590,142.6L590,142.3L591,142.3L591,142.3L592,142.3L592,137.0L593,137.0L593,137.0L594,137.0L594,137.0L595,137.0L595,134.3L596,134.3L596,162.2L597,162.2L597,176.0L598,176.0L598,161.5L599,161.5L599,161.4L600,161.4L600,161.4L601,161.4L601,176.0L602,176.0L602,176.0L603,176.0L603,170.4L604,170.4L604,170.3L605,170.3L605,170.3L606,170.3L606,170.3L607,170.3L607,178.0L608,178.0L608,164.6L609,164.6L609,164.6L610,164.6L610,165.0L611,165.0L611,143.8L612,143.8L612,144.2L613,144.2L613,144.2L614,144.2L614,144.1L615,144.1L615,157.5L616,157.5L616,157.5L617,157.5L617,162.8L618,162.8L618,162.8L619,162.8L619,164.8L620,164.8L620,182.6L621,182.6L621,182.6L622,182.6L622,166.1L623,166.1L623,166.1L624,166.1L624,166.1L625,166.1L625,165.0L626,165.0L626,180.7L627,180.7L627,180.7L628,180.7L628,180.8L629,180.8L629,183.3L630,183.3L630,183.3L631,183.3L631,168.5L632,168.5L632,168.5L633,168.5L633,171.4L634,171.4L634,167.9L635,167.9L635,155.1L636,155.1L636,154.1L637,154.1L637,154.1L638,154.1L638,147.1L639,147.1L639,147.2L640,147.2L640,147.2L641,147.2L641,147.2L642,147.2L642,164.8L643,164.8L643,157.7L644,157.7L644,158.5L645,158.5L645,156.6L646,156.6L646,175.1L647,175.1L647,177.1L648,177.1L648,178.1L649,178.1L649,195.9L650,195.9L650,195.9L651,195.9L651,188.5L652,188.5L652,188.5L653,188.5L653,182.6L654,182.6L654,182.6L655,182.6L655,182.7L656,182.7L656,185.6L657,185.6L657,174.2L658,174.2L658,164.9L659,164.9L659,164.9L660,164.9L660,160.3L661,160.3L661,160.3L662,160.3L662,139.1L663,139.1L663,139.4L664,139.4L664,139.4L665,139.4L665,150.0L666,150.0L666,164.6L667,164.6L667,195.9L668,195.9L668,197.0L669,197.0L669,199.3L670,199.3L670,199.3L671,199.3L671,187.4L672,187.4L672,182.7L673,182.7L673,182.7L674,182.7L674,177.0L675,177.0L675,177.0L676,177.0L676,175.8L677,175.8L677,165.2L678,165.2L678,165.2L679,165.2L679,165.9L680,165.9L680,160.7L681,160.7L681,160.2L682,160.2L682,160.2L683,160.2L683,159.7L684,159.7L684,146.3L685,146.3L685,146.6L686,146.6L686,145.9L687,145.9L687,145.9L688,145.9L688,156.5L689,156.5L689,157.6L690,157.6L690,157.5L691,157.5L691,173.2L692,173.2L692,173.2L693,173.2L693,173.9L694,173.9L694,181.0L695,181.0L695,181.4L696,181.4L696,185.8L697,185.8L697,187.0L698,187.0L698,190.4L699,190.4L699,190.3L700,190.3L700,190.3L701,190.3L701,190.3L702,190.3L702,195.9L703,195.9L703,195.9L704,195.9L704,183.7L705,183.7L705,183.7L706,183.7L706,167.7L707,167.7L707,167.0L708,167.0L708,167.0L709,167.0L709,174.2L710,174.2L710,174.2L711,174.2L711,187.3L712,187.3L712,187.5L713,187.5L713,187.1L714,187.1L714,200.5L715,200.5L715,163.7L716,163.7L716,163.6L717,163.6L717,163.6L718,163.6L718,185.6L719,185.6L719,185.6L720,185.6L720,185.6L721,185.6L721,187.6L722,187.6L722,187.6L723,187.6L723,186.5L724,186.5L724,188.1L725,188.1L725,188.1L726,188.1L726,198.1L727,198.1L727,181.8L728,181.8L728,181.8L729,181.8L729,165.7L730,165.7L730,165.7L731,165.7L731,156.7L732,156.7L732,153.4L733,153.4L733,153.4L734,153.4L734,169.0L735,169.0L735,172.4L736,172.4L736,192.3L737,192.3L737,192.3L738,192.3L738,192.9L739,192.9L739,193.3L740,193.3L740,193.3L741,193.3L741,205.5L742,205.5L742,224.9L743,224.9L743,224.9L744,224.9L744,226.4L745,226.4L745,226.4L746,226.4L746,226.4L747,226.4L747,225.1L748,225.1L748,229.6L749,229.6L749,218.9L750,218.9L750,215.5L751,215.5L751,218.5L752,218.5L752,211.4L753,211.4L753,211.4L754,211.4L754,210.7L755,210.7L755,210.2L756,210.2L756,208.7L757,208.7L757,208.7L758,208.7L758,208.7L759,208.7L759,210.4L760,210.4L760,220.6L761,220.6L761,231.7L762,231.7L762,231.7L763,231.7L763,246.6L764,246.6L764,246.6L765,246.6L765,245.8L766,245.8L766,216.7L767,216.7L767,185.7L768,185.7L768,180.1L769,180.1L769,176.8L770,176.8L770,176.8L771,176.8L771,176.8L772,176.8L772,185.7L773,185.7L773,165.7L774,165.7L774,165.8L775,165.8L775,157.3L776,157.3L776,156.2L777,156.2L777,156.2L778,156.2L778,160.2L779,160.2L779,161.0L780,161.0L780,161.8L781,161.8L781,169.0L782,169.0L782,169.0L783,169.0L783,194.6L784,194.6L784,193.0L785,193.0L785,208.6L786,208.6L786,208.6L787,208.6L787,212.4L788,212.4L788,212.4L789,212.4L789,214.8L790,214.8L790,217.8L791,217.8L791,217.8L792,217.8L792,217.8L793,217.8L793,217.8L794,217.8L794,217.7L795,217.7L795,217.8L796,217.8L796,221.7L797,221.7L797,212.2L798,212.2L798,209.3L799,209.3L799,209.3L800,209.3L800,202.9L801,202.9L801,202.9L802,202.9L802,202.9L803,202.9L803,204.6L804,204.6L804,204.6L805,204.6L805,204.6L806,204.6L806,204.9L807,204.9L807,204.9L808,204.9L808,242.8L809,242.8L809,243.6L810,243.6L810,244.7L811,244.7L811,243.9L812,243.9L812,242.9L813,242.9L813,241.7L814,241.7L814,242.4L815,242.4L815,241.9L816,241.9L816,242.4L817,242.4L817,241.6L818,241.6L818,246.1L819,246.1L819,256.7L820,256.7L820,259.7L821,259.7L821,264.2L822,264.2L822,250.8L823,250.8L823,249.8L824,249.8L824,238.8L825,238.8L825,238.9L826,238.9L826,238.9L827,238.9L827,238.9L828,238.9L828,239.8L829,239.8L829,239.8L830,239.8L830,257.6L831,257.6L831,270.7L832,270.7L832,289.5L833,289.5L833,295.4L834,295.4L834,346.4L835,346.4L835,340.3L836,340.3L836,323.9L837,323.9L837,304.7L838,304.7L838,301.7L839,301.7L839,302.3L840,302.3L840,310.1L841,310.1L841,316.2L842,316.2L842,321.5L843,321.5L843,326.5L844,326.5L844,325.1L845,325.1L845,325.8L846,325.8L846,328.9L847,328.9L847,326.5L848,326.5L848,309.7L849,309.7L849,306.6L850,306.6L850,306.6L851,306.6L851,320.0L852,320.0L852,320.9L853,320.9L853,327.5L854,327.5L854,336.5L855,336.5L855,344.3L856,344.3L856,326.9L857,326.9L857,326.9L858,326.9L858,326.3L859,326.3L859,326.3L858,326.3L858,409.2L857,409.2L857,424.9L856,424.9L856,438.3L855,438.3L855,438.3L854,438.3L854,438.2L853,438.2L853,431.5L852,431.5L852,431.6L851,431.6L851,415.9L850,415.9L850,417.0L849,417.0L849,417.0L848,417.0L848,436.8L847,436.8L847,445.0L846,445.0L846,455.0L845,455.0L845,458.4L844,458.4L844,458.0L843,458.0L843,451.3L842,451.3L842,451.5L841,451.5L841,431.4L840,431.4L840,431.2L839,431.2L839,425.6L838,425.6L838,425.6L837,425.6L837,422.8L836,422.8L836,419.8L835,419.8L835,408.6L834,408.6L834,361.0L833,361.0L833,375.5L832,375.5L832,376.4L831,376.4L831,366.9L830,366.9L830,356.3L829,356.3L829,355.6L828,355.6L828,345.4L827,345.4L827,341.8L826,341.8L826,337.0L825,337.0L825,337.0L824,337.0L824,339.3L823,339.3L823,338.8L822,338.8L822,347.7L821,347.7L821,347.7L820,347.7L820,348.5L819,348.5L819,345.2L818,345.2L818,345.2L817,345.2L817,343.0L816,343.0L816,330.2L815,330.2L815,330.2L814,330.2L814,328.5L813,328.5L813,327.4L812,327.4L812,326.5L811,326.5L811,334.8L810,334.8L810,339.7L809,339.7L809,339.0L808,339.0L808,329.0L807,329.0L807,329.0L806,329.0L806,318.2L805,318.2L805,301.5L804,301.5L804,301.5L803,301.5L803,283.6L802,283.6L802,287.5L801,287.5L801,293.0L800,293.0L800,297.3L799,297.3L799,299.4L798,299.4L798,299.8L797,299.8L797,299.8L796,299.8L796,298.6L795,298.6L795,299.0L794,299.0L794,299.0L793,299.0L793,293.0L792,293.0L792,295.8L791,295.8L791,294.9L790,294.9L790,314.0L789,314.0L789,322.5L788,322.5L788,334.0L787,334.0L787,334.0L786,334.0L786,343.2L785,343.2L785,343.2L784,343.2L784,328.3L783,328.3L783,318.1L782,318.1L782,318.1L781,318.1L781,305.7L780,305.7L780,296.6L779,296.6L779,299.6L778,299.6L778,302.5L777,302.5L777,316.0L776,316.0L776,316.0L775,316.0L775,324.7L774,324.7L774,324.7L773,324.7L773,324.6L772,324.6L772,321.3L771,321.3L771,320.4L770,320.4L770,316.9L769,316.9L769,321.6L768,321.6L768,321.5L767,321.5L767,323.7L766,323.7L766,323.7L765,323.7L765,323.4L764,323.4L764,335.4L763,335.4L763,342.4L762,342.4L762,341.5L761,341.5L761,323.8L760,323.8L760,322.6L759,322.6L759,320.2L758,320.2L758,321.0L757,321.0L757,306.4L756,306.4L756,306.1L755,306.1L755,306.6L754,306.6L754,310.3L753,310.3L753,310.3L752,310.3L752,315.2L751,315.2L751,322.2L750,322.2L750,322.2L749,322.2L749,323.7L748,323.7L748,316.5L747,316.5L747,378.8L746,378.8L746,378.8L745,378.8L745,377.9L744,377.9L744,377.2L743,377.2L743,328.0L742,328.0L742,335.1L741,335.1L741,339.5L740,339.5L740,350.3L739,350.3L739,357.3L738,357.3L738,357.2L737,357.2L737,341.8L736,341.8L736,342.0L735,342.0L735,339.7L734,339.7L734,326.3L733,326.3L733,334.7L732,334.7L732,335.1L731,335.1L731,335.1L730,335.1L730,333.7L729,333.7L729,334.0L728,334.0L728,334.0L727,334.0L727,342.2L726,342.2L726,341.3L725,341.3L725,334.9L724,334.9L724,333.5L723,333.5L723,323.4L722,323.4L722,323.4L721,323.4L721,327.1L720,327.1L720,327.1L719,327.1L719,327.1L718,327.1L718,319.3L717,319.3L717,319.1L716,319.1L716,319.1L715,319.1L715,326.9L714,326.9L714,327.0L713,327.0L713,327.0L712,327.0L712,316.0L711,316.0L711,310.1L710,310.1L710,310.1L709,310.1L709,298.3L708,298.3L708,298.8L707,298.8L707,294.8L706,294.8L706,301.2L705,301.2L705,311.8L704,311.8L704,312.4L703,312.4L703,311.5L702,311.5L702,308.1L701,308.1L701,302.2L700,302.2L700,299.8L699,299.8L699,299.8L698,299.8L698,299.5L697,299.5L697,301.7L696,301.7L696,310.5L695,310.5L695,316.6L694,316.6L694,323.3L693,323.3L693,329.7L692,329.7L692,336.8L691,336.8L691,335.9L690,335.9L690,335.9L689,335.9L689,325.6L688,325.6L688,324.5L687,324.5L687,320.1L686,320.1L686,315.6L685,315.6L685,321.2L684,321.2L684,321.2L683,321.2L683,320.5L682,320.5L682,324.2L681,324.2L681,324.2L680,324.2L680,325.4L679,325.4L679,323.8L678,323.8L678,323.4L677,323.4L677,319.5L676,319.5L676,319.5L675,319.5L675,336.4L674,336.4L674,337.5L673,337.5L673,338.2L672,338.2L672,338.2L671,338.2L671,330.4L670,330.4L670,331.0L669,331.0L669,331.5L668,331.5L668,331.2L667,331.2L667,331.2L666,331.2L666,331.5L665,331.5L665,331.5L664,331.5L664,310.9L663,310.9L663,310.3L662,310.3L662,307.5L661,307.5L661,309.1L660,309.1L660,312.4L659,312.4L659,312.8L658,312.8L658,313.4L657,313.4L657,313.7L656,313.7L656,314.1L655,314.1L655,311.8L654,311.8L654,310.2L653,310.2L653,306.4L652,306.4L652,308.2L651,308.2L651,308.2L650,308.2L650,317.0L649,317.0L649,319.6L648,319.6L648,349.7L647,349.7L647,350.6L646,350.6L646,353.7L645,353.7L645,371.2L644,371.2L644,371.2L643,371.2L643,352.3L642,352.3L642,353.8L641,353.8L641,343.8L640,343.8L640,343.5L639,343.5L639,330.2L638,330.2L638,334.4L637,334.4L637,339.9L636,339.9L636,345.9L635,345.9L635,348.5L634,348.5L634,348.5L633,348.5L633,351.3L632,351.3L632,352.3L631,352.3L631,352.3L630,352.3L630,344.2L629,344.2L629,343.0L628,343.0L628,343.0L627,343.0L627,339.0L626,339.0L626,339.0L625,339.0L625,335.7L624,335.7L624,333.9L623,333.9L623,332.8L622,332.8L622,332.5L621,332.5L621,328.6L620,328.6L620,323.0L619,323.0L619,321.9L618,321.9L618,321.7L617,321.7L617,315.5L616,315.5L616,304.5L615,304.5L615,301.8L614,301.8L614,297.2L613,297.2L613,300.6L612,300.6L612,301.6L611,301.6L611,302.5L610,302.5L610,302.5L609,302.5L609,299.2L608,299.2L608,301.9L607,301.9L607,304.8L606,304.8L606,308.6L605,308.6L605,307.2L604,307.2L604,304.4L603,304.4L603,302.2L602,302.2L602,303.3L601,303.3L601,307.9L600,307.9L600,333.6L599,333.6L599,339.0L598,339.0L598,338.2L597,338.2L597,330.6L596,330.6L596,327.6L595,327.6L595,326.7L594,326.7L594,326.7L593,326.7L593,315.5L592,315.5L592,315.7L591,315.7L591,320.4L590,320.4L590,320.4L589,320.4L589,322.4L588,322.4L588,327.9L587,327.9L587,328.4L586,328.4L586,330.8L585,330.8L585,330.8L584,330.8L584,326.9L583,326.9L583,327.7L582,327.7L582,327.7L581,327.7L581,323.8L580,323.8L580,318.9L579,318.9L579,320.6L578,320.6L578,319.8L577,319.8L577,319.6L576,319.6L576,319.5L575,319.5L575,325.7L574,325.7L574,327.9L573,327.9L573,327.9L572,327.9L572,319.1L571,319.1L571,318.1L570,318.1L570,314.3L569,314.3L569,304.8L568,304.8L568,304.8L567,304.8L567,301.5L566,301.5L566,301.5L565,301.5L565,298.1L564,298.1L564,303.9L563,303.9L563,303.9L562,303.9L562,303.8L561,303.8L561,302.9L560,302.9L560,301.6L559,301.6L559,312.7L558,312.7L558,313.5L557,313.5L557,300.1L556,300.1L556,318.7L555,318.7L555,330.4L554,330.4L554,341.5L553,341.5L553,340.6L552,340.6L552,340.6L551,340.6L551,342.9L550,342.9L550,342.9L549,342.9L549,342.9L548,342.9L548,335.7L547,335.7L547,333.9L546,333.9L546,324.3L545,324.3L545,324.3L544,324.3L544,323.9L543,323.9L543,323.9L542,323.9L542,341.7L541,341.7L541,341.7L540,341.7L540,341.7L539,341.7L539,341.0L538,341.0L538,332.6L537,332.6L537,332.6L536,332.6L536,333.3L535,333.3L535,321.5L534,321.5L534,321.5L533,321.5L533,319.7L532,319.7L532,309.8L531,309.8L531,318.4L530,318.4L530,323.7L529,323.7L529,325.9L528,325.9L528,326.2L527,326.2L527,326.2L526,326.2L526,326.5L525,326.5L525,308.1L524,308.1L524,309.4L523,309.4L523,311.4L522,311.4L522,311.4L521,311.4L521,311.4L520,311.4L520,305.9L519,305.9L519,305.5L518,305.5L518,383.4L517,383.4L517,383.4L516,383.4L516,383.4L515,383.4L515,383.6L514,383.6L514,305.9L513,305.9L513,364.6L512,364.6L512,383.5L511,383.5L511,384.7L510,384.7L510,384.7L509,384.7L509,384.7L508,384.7L508,311.8L507,311.8L507,311.8L506,311.8L506,328.1L505,328.1L505,330.2L504,330.2L504,330.2L503,330.2L503,330.2L502,330.2L502,328.2L501,328.2L501,328.2L500,328.2L500,324.4L499,324.4L499,323.6L498,323.6L498,322.0L497,322.0L497,321.2L496,321.2L496,323.9L495,323.9L495,323.9L494,323.9L494,323.4L493,323.4L493,322.9L492,322.9L492,323.4L491,323.4L491,329.6L490,329.6L490,329.2L489,329.2L489,324.7L488,324.7L488,321.4L487,321.4L487,317.5L486,317.5L486,312.8L485,312.8L485,309.5L484,309.5L484,315.0L483,315.0L483,398.0L482,398.0L482,406.9L481,406.9L481,420.5L480,420.5L480,420.5L479,420.5L479,421.9L478,421.9L478,421.9L477,421.9L477,396.3L476,396.3L476,311.1L475,311.1L475,311.1L474,311.1L474,304.7L473,304.7L473,305.6L472,305.6L472,411.9L471,411.9L471,415.1L470,415.1L470,416.4L469,416.4L469,424.4L468,424.4L468,429.5L467,429.5L467,429.5L466,429.5L466,429.1L465,429.1L465,429.8L464,429.8L464,429.8L463,429.8L463,438.7L462,438.7L462,438.7L461,438.7L461,429.8L460,429.8L460,411.4L459,411.4L459,344.6L458,344.6L458,347.9L457,347.9L457,347.9L456,347.9L456,344.5L455,344.5L455,337.3L454,337.3L454,332.4L453,332.4L453,330.6L452,330.6L452,326.7L451,326.7L451,326.7L450,326.7L450,324.5L449,324.5L449,325.9L448,325.9L448,331.8L447,331.8L447,331.8L446,331.8L446,334.1L445,334.1L445,333.3L444,333.3L444,332.6L443,332.6L443,329.5L442,329.5L442,402.1L441,402.1L441,402.1L440,402.1L440,408.2L439,408.2L439,408.2L438,408.2L438,408.2L437,408.2L437,419.0L436,419.0L436,419.0L435,419.0L435,423.5L434,423.5L434,419.7L433,419.7L433,419.7L432,419.7L432,415.6L431,415.6L431,415.6L430,415.6L430,400.0L429,400.0L429,389.4L428,389.4L428,400.6L427,400.6L427,415.5L426,415.5L426,415.5L425,415.5L425,415.7L424,415.7L424,416.5L423,416.5L423,416.6L422,416.6L422,416.6L421,416.6L421,417.7L420,417.7L420,418.6L419,418.6L419,432.9L418,432.9L418,440.4L417,440.4L417,440.4L416,440.4L416,438.7L415,438.7L415,438.7L414,438.7L414,427.0L413,427.0L413,427.0L412,427.0L412,333.9L411,333.9L411,334.4L410,334.4L410,334.4L409,334.4L409,335.0L408,335.0L408,320.5L407,320.5L407,320.5L406,320.5L406,311.8L405,311.8L405,310.0L404,310.0L404,306.7L403,306.7L403,308.2L402,308.2L402,402.5L401,402.5L401,402.9L400,402.9L400,411.1L399,411.1L399,411.1L398,411.1L398,415.5L397,415.5L397,415.5L396,415.5L396,420.5L395,420.5L395,420.5L394,420.5L394,422.8L393,422.8L393,423.0L392,423.0L392,424.4L391,424.4L391,426.7L390,426.7L390,439.5L389,439.5L389,450.1L388,450.1L388,450.4L387,450.4L387,438.2L386,438.2L386,438.2L385,438.2L385,436.1L384,436.1L384,436.1L383,436.1L383,435.7L382,435.7L382,434.0L381,434.0L381,434.0L380,434.0L380,435.8L379,435.8L379,435.8L378,435.8L378,452.1L377,452.1L377,452.1L376,452.1L376,455.5L375,455.5L375,455.5L374,455.5L374,455.5L373,455.5L373,454.9L372,454.9L372,453.8L371,453.8L371,466.7L370,466.7L370,472.4L369,472.4L369,472.4L368,472.4L368,461.0L367,461.0L367,461.0L366,461.0L366,445.4L365,445.4L365,447.9L364,447.9L364,430.0L363,430.0L363,430.0L362,430.0L362,422.2L361,422.2L361,417.7L360,417.7L360,399.6L359,399.6L359,399.6L358,399.6L358,410.8L357,410.8L357,412.0L356,412.0L356,426.5L355,426.5L355,426.5L354,426.5L354,426.4L353,426.4L353,426.4L352,426.4L352,416.3L351,416.3L351,420.0L350,420.0L350,428.5L349,428.5L349,428.5L348,428.5L348,428.5L347,428.5L347,418.6L346,418.6L346,421.5L345,421.5L345,421.5L344,421.5L344,422.5L343,422.5L343,429.2L342,429.2L342,429.2L341,429.2L341,477.7L340,477.7L340,478.5L339,478.5L339,439.4L338,439.4L338,439.4L337,439.4L337,429.7L336,429.7L336,429.7L335,429.7L335,411.9L334,411.9L334,414.7L333,414.7L333,417.6L332,417.6L332,417.6L331,417.6L331,433.3L330,433.3L330,433.3L329,433.3L329,443.2L328,443.2L328,443.2L327,443.2L327,456.6L326,456.6L326,455.8L325,455.8L325,455.8L324,455.8L324,444.1L323,444.1L323,441.0L322,441.0L322,441.0L321,441.0L321,439.8L320,439.8L320,438.9L319,438.9L319,431.1L318,431.1L318,435.0L317,435.0L317,418.7L316,418.7L316,418.7L315,418.7L315,405.1L314,405.1L314,405.1L313,405.1L313,405.2L312,405.2L312,405.2L311,405.2L311,416.4L310,416.4L310,416.3L309,416.3L309,416.4L308,416.4L308,417.5L307,417.5L307,417.5L306,417.5L306,417.6L305,417.6L305,417.6L304,417.6L304,417.6L303,417.6L303,416.3L302,416.3L302,417.4L301,417.4L301,417.5L300,417.5L300,468.1L299,468.1L299,469.0L298,469.0L298,474.2L297,474.2L297,474.2L296,474.2L296,452.2L295,452.2L295,457.6L294,457.6L294,461.1L293,461.1L293,461.5L292,461.5L292,461.7L291,461.7L291,463.5L290,463.5L290,463.5L289,463.5L289,462.7L288,462.7L288,462.7L287,462.7L287,446.8L286,446.8L286,446.8L285,446.8L285,464.6L284,464.6L284,464.5L283,464.5L283,465.3L282,465.3L282,465.9L281,465.9L281,465.9L280,465.9L280,475.3L279,475.3L279,475.3L278,475.3L278,475.8L277,475.8L277,475.8L276,475.8L276,467.8L275,467.8L275,467.8L274,467.8L274,467.8L273,467.8L273,458.1L272,458.1L272,458.1L271,458.1L271,438.0L270,438.0L270,437.7L269,437.7L269,436.6L268,436.6L268,436.6L267,436.6L267,435.2L266,435.2L266,426.1L265,426.1L265,412.7L264,412.7L264,422.4L263,422.4L263,422.4L262,422.4L262,441.8L261,441.8L261,441.8L260,441.8L260,441.9L259,441.9L259,430.3L258,430.3L258,436.7L257,436.7L257,437.7L256,437.7L256,438.1L255,438.1L255,438.1L254,438.1L254,440.1L253,440.1L253,443.5L252,443.5L252,447.0L251,447.0L251,455.9L250,455.9L250,455.9L249,455.9L249,458.8L248,458.8L248,468.1L247,468.1L247,468.1L246,468.1L246,468.3L245,468.3L245,463.8L244,463.8L244,463.8L243,463.8L243,455.8L242,455.8L242,454.3L241,454.3L241,443.1L240,443.1L240,458.1L239,458.1L239,469.9L238,469.9L238,469.9L237,469.9L237,469.9L236,469.9L236,464.3L235,464.3L235,464.8L234,464.8L234,472.1L233,472.1L233,472.6L232,472.6L232,470.2L231,470.2L231,468.7L230,468.7L230,469.1L229,469.1L229,493.8L228,493.8L228,496.6L227,496.6L227,496.8L226,496.8L226,468.9L225,468.9L225,453.5L224,453.5L224,452.2L223,452.2L223,445.6L222,445.6L222,445.8L221,445.8L221,431.3L220,431.3L220,432.1L219,432.1L219,433.0L218,433.0L218,428.3L217,428.3L217,425.7L216,425.7L216,420.1L215,420.1L215,422.4L214,422.4L214,421.5L213,421.5L213,432.6L212,432.6L212,432.9L211,432.9L211,433.2L210,433.2L210,437.6L209,437.6L209,438.0L208,438.0L208,458.1L207,458.1L207,458.1L206,458.1L206,460.5L205,460.5L205,460.5L204,460.5L204,460.5L203,460.5L203,461.5L202,461.5L202,459.9L201,459.9L201,472.2L200,472.2L200,472.6L199,472.6L199,472.6L198,472.6L198,455.9L197,455.9L197,455.3L196,455.3L196,435.2L195,435.2L195,435.2L194,435.2L194,417.9L193,417.9L193,417.6L192,417.6L192,433.3L191,433.3L191,433.3L190,433.3L190,440.6L189,440.6L189,446.7L188,446.7L188,446.6L187,446.6L187,446.6L186,446.6L186,441.3L185,441.3L185,441.3L184,441.3L184,438.8L183,438.8L183,435.7L182,435.7L182,435.7L181,435.7L181,429.6L180,429.6L180,429.6L179,429.6L179,430.1L178,430.1L178,424.5L177,424.5L177,424.6L176,424.6L176,424.6L175,424.6L175,409.0L174,409.0L174,409.0L173,409.0L173,342.0L172,342.0L172,335.3L171,335.3L171,332.2L170,332.2L170,332.2L169,332.2L169,324.2L168,324.2L168,324.4L167,324.4L167,318.8L166,318.8L166,315.5L165,315.5L165,313.8L164,313.8L164,307.9L163,307.9L163,307.6L162,307.6L162,307.9L161,307.9L161,307.7L160,307.7L160,312.8L159,312.8L159,312.8L158,312.8L158,312.7L157,312.7L157,311.8L156,311.8L156,318.9L155,318.9L155,382.5L154,382.5L154,383.0L153,383.0L153,377.4L152,377.4L152,377.4L151,377.4L151,374.8L150,374.8L150,374.0L149,374.0L149,356.4L148,356.4L148,355.5L147,355.5L147,348.8L146,348.8L146,344.6L145,344.6L145,344.7L144,344.7L144,342.7L143,342.7L143,342.7L142,342.7L142,345.5L141,345.5L141,345.5L140,345.5L140,345.5L139,345.5L139,345.5L138,345.5L138,345.5L137,345.5L137,345.7L136,345.7L136,345.7L135,345.7L135,345.0L134,345.0L134,342.8L133,342.8L133,342.8L132,342.8L132,294.6L131,294.6L131,304.8L130,304.8L130,304.8L129,304.8L129,302.1L128,302.1L128,300.6L127,300.6L127,295.3L126,295.3L126,294.1L125,294.1L125,289.8L124,289.8L124,290.0L123,290.0L123,288.3L122,288.3L122,288.1L121,288.1L121,287.0L120,287.0L120,280.6L119,280.6L119,278.5L118,278.5L118,278.5L117,278.5L117,274.0L116,274.0L116,276.4L115,276.4L115,279.2L114,279.2L114,280.7L113,280.7L113,280.7L112,280.7L112,288.0L111,288.0L111,297.4L110,297.4L110,296.7L109,296.7Z" fill="#f68d2b"/>
<path d="M109,270.5L109,270.5L110,270.5L110,251.9L111,251.9L111,238.5L112,238.5L112,238.5L113,238.5L113,233.2L114,233.2L114,233.2L115,233.2L115,231.1L116,231.1L116,231.1L117,231.1L117,231.0L118,231.0L118,231.0L119,231.0L119,231.1L120,231.1L120,232.8L121,232.8L121,233.0L122,233.0L122,235.3L123,235.3L123,235.6L124,235.6L124,242.0L125,242.0L125,243.7L126,243.7L126,246.7L127,246.7L127,247.7L128,247.7L128,253.5L129,253.5L129,255.9L130,255.9L130,243.8L131,243.8L131,220.9L132,220.9L132,218.4L133,218.4L133,217.0L134,217.0L134,217.0L135,217.0L135,222.3L136,222.3L136,230.7L137,230.7L137,231.2L138,231.2L138,233.3L139,233.3L139,232.6L140,232.6L140,231.0L141,231.0L141,231.2L142,231.2L142,231.2L143,231.2L143,231.6L144,231.6L144,231.6L145,231.6L145,237.0L146,237.0L146,238.4L147,238.4L147,239.7L148,239.7L148,239.7L149,239.7L149,246.3L150,246.3L150,246.3L151,246.3L151,257.3L152,257.3L152,257.3L153,257.3L153,255.7L154,255.7L154,255.7L155,255.7L155,238.3L156,238.3L156,237.6L157,237.6L157,238.8L158,238.8L158,250.2L159,250.2L159,248.8L160,248.8L160,248.8L161,248.8L161,247.8L162,247.8L162,247.8L163,247.8L163,248.4L164,248.4L164,248.4L165,248.4L165,247.3L166,247.3L166,251.7L167,251.7L167,252.0L168,252.0L168,263.1L169,263.1L169,262.9L170,262.9L170,267.3L171,267.3L171,267.3L172,267.3L172,276.6L173,276.6L173,276.6L174,276.6L174,274.3L175,274.3L175,265.1L176,265.1L176,254.0L177,254.0L177,254.0L178,254.0L178,240.5L179,240.5L179,241.3L180,241.3L180,241.3L181,241.3L181,229.0L182,229.0L182,227.7L183,227.7L183,227.7L184,227.7L184,235.7L185,235.7L185,241.8L186,241.8L186,242.6L187,242.6L187,252.6L188,252.6L188,252.6L189,252.6L189,254.4L190,254.4L190,254.4L191,254.4L191,249.5L192,249.5L192,249.5L193,249.5L193,249.5L194,249.5L194,249.9L195,249.9L195,256.4L196,256.4L196,259.5L197,259.5L197,259.5L198,259.5L198,268.4L199,268.4L199,267.8L200,267.8L200,267.8L201,267.8L201,248.8L202,248.8L202,248.8L203,248.8L203,248.8L204,248.8L204,248.4L205,248.4L205,254.8L206,254.8L206,254.8L207,254.8L207,254.8L208,254.8L208,266.4L209,266.4L209,266.4L210,266.4L210,266.4L211,266.4L211,270.8L212,270.8L212,270.8L213,270.8L213,270.0L214,270.0L214,270.0L215,270.0L215,270.0L216,270.0L216,270.1L217,270.1L217,270.1L218,270.1L218,271.8L219,271.8L219,272.5L220,272.5L220,299.1L221,299.1L221,270.8L222,270.8L222,269.4L223,269.4L223,262.7L224,262.7L224,262.9L225,262.9L225,245.1L226,245.1L226,219.7L227,219.7L227,219.7L228,219.7L228,240.9L229,240.9L229,241.3L230,241.3L230,248.0L231,248.0L231,248.0L232,248.0L232,248.3L233,248.3L233,252.8L234,252.8L234,252.8L235,252.8L235,254.7L236,254.7L236,263.7L237,263.7L237,263.1L238,263.1L238,259.9L239,259.9L239,256.5L240,256.5L240,256.5L241,256.5L241,257.1L242,257.1L242,257.1L243,257.1L243,258.8L244,258.8L244,258.7L245,258.7L245,258.7L246,258.7L246,261.9L247,261.9L247,262.9L248,262.9L248,269.6L249,269.6L249,269.9L250,269.9L250,269.9L251,269.9L251,268.0L252,268.0L252,268.0L253,268.0L253,267.4L254,267.4L254,267.5L255,267.5L255,265.3L256,265.3L256,266.1L257,266.1L257,266.1L258,266.1L258,257.2L259,257.2L259,256.6L260,256.6L260,256.6L261,256.6L261,256.9L262,256.9L262,259.2L263,259.2L263,263.8L264,263.8L264,255.0L265,255.0L265,255.0L266,255.0L266,255.0L267,255.0L267,256.2L268,256.2L268,283.7L269,283.7L269,260.7L270,260.7L270,260.6L271,260.6L271,247.2L272,247.2L272,247.6L273,247.6L273,247.6L274,247.6L274,247.6L275,247.6L275,247.6L276,247.6L276,249.8L277,249.8L277,249.8L278,249.8L278,235.3L279,235.3L279,235.4L280,235.4L280,235.6L281,235.6L281,235.6L282,235.6L282,247.9L283,247.9L283,247.9L284,247.9L284,244.3L285,244.3L285,243.3L286,243.3L286,243.3L287,243.3L287,242.0L288,242.0L288,244.3L289,244.3L289,244.3L290,244.3L290,245.1L291,245.1L291,258.5L292,258.5L292,258.5L293,258.5L293,258.5L294,258.5L294,227.2L295,227.2L295,228.3L296,228.3L296,221.6L297,221.6L297,205.6L298,205.6L298,205.6L299,205.6L299,205.6L300,205.6L300,205.0L301,205.0L301,205.0L302,205.0L302,214.0L303,214.0L303,214.0L304,214.0L304,214.0L305,214.0L305,225.8L306,225.8L306,225.8L307,225.8L307,208.0L308,208.0L308,205.9L309,205.9L309,205.9L310,205.9L310,205.9L311,205.9L311,228.5L312,228.5L312,228.5L313,228.5L313,230.6L314,230.6L314,229.9L315,229.9L315,231.0L316,231.0L316,248.8L317,248.8L317,197.2L318,197.2L318,197.2L319,197.2L319,196.3L320,196.3L320,193.2L321,193.2L321,193.6L322,193.6L322,193.6L323,193.6L323,201.4L324,201.4L324,202.6L325,202.6L325,202.6L326,202.6L326,209.3L327,209.3L327,209.3L328,209.3L328,209.1L329,209.1L329,218.1L330,218.1L330,218.1L331,218.1L331,207.2L332,207.2L332,207.8L333,207.8L333,207.8L334,207.8L334,205.6L335,205.6L335,206.4L336,206.4L336,205.6L337,205.6L337,207.9L338,207.9L338,226.2L339,226.2L339,226.2L340,226.2L340,224.0L341,224.0L341,224.2L342,224.2L342,218.2L343,218.2L343,208.6L344,208.6L344,207.3L345,207.3L345,207.3L346,207.3L346,225.2L347,225.2L347,225.2L348,225.2L348,226.7L349,226.7L349,229.9L350,229.9L350,229.4L351,229.4L351,229.4L352,229.4L352,233.9L353,233.9L353,233.9L354,233.9L354,226.2L355,226.2L355,226.2L356,226.2L356,224.9L357,224.9L357,224.9L358,224.9L358,236.1L359,236.1L359,237.4L360,237.4L360,246.3L361,246.3L361,246.4L362,246.4L362,252.7L363,252.7L363,258.4L364,258.4L364,210.3L365,210.3L365,192.6L366,192.6L366,193.1L367,193.1L367,193.1L368,193.1L368,194.5L369,194.5L369,194.5L370,194.5L370,210.2L371,210.2L371,192.2L372,192.2L372,192.2L373,192.2L373,192.2L374,192.2L374,192.6L375,192.6L375,204.8L376,204.8L376,204.8L377,204.8L377,205.9L378,205.9L378,206.7L379,206.7L379,206.1L380,206.1L380,206.6L381,206.6L381,206.6L382,206.6L382,206.3L383,206.3L383,206.3L384,206.3L384,225.3L385,225.3L385,224.9L386,224.9L386,223.8L387,223.8L387,223.8L388,223.8L388,193.9L389,193.9L389,193.9L390,193.9L390,194.9L391,194.9L391,210.6L392,210.6L392,210.6L393,210.6L393,237.5L394,237.5L394,237.5L395,237.5L395,237.7L396,237.7L396,242.1L397,242.1L397,240.5L398,240.5L398,240.5L399,240.5L399,245.0L400,245.0L400,245.1L401,245.1L401,227.3L402,227.3L402,227.2L403,227.2L403,227.2L404,227.2L404,227.2L405,227.2L405,232.5L406,232.5L406,236.1L407,236.1L407,236.1L408,236.1L408,236.1L409,236.1L409,259.1L410,259.1L410,259.1L411,259.1L411,232.4L412,232.4L412,232.5L413,232.5L413,232.5L414,232.5L414,228.0L415,228.0L415,227.4L416,227.4L416,227.4L417,227.4L417,207.3L418,207.3L418,208.5L419,208.5L419,208.5L420,208.5L420,213.9L421,213.9L421,227.1L422,227.1L422,213.8L423,213.8L423,214.6L424,214.6L424,215.0L425,215.0L425,215.0L426,215.0L426,207.3L427,207.3L427,207.3L428,207.3L428,207.3L429,207.3L429,207.8L430,207.8L430,214.5L431,214.5L431,214.5L432,214.5L432,214.2L433,214.2L433,242.1L434,242.1L434,242.1L435,242.1L435,241.7L436,241.7L436,245.0L437,245.0L437,245.0L438,245.0L438,246.5L439,246.5L439,246.5L440,246.5L440,245.2L441,245.2L441,250.4L442,250.4L442,252.0L443,252.0L443,252.0L444,252.0L444,253.0L445,253.0L445,253.9L446,253.9L446,253.9L447,253.9L447,247.2L448,247.2L448,247.9L449,247.9L449,247.9L450,247.9L450,247.9L451,247.9L451,251.0L452,251.0L452,251.0L453,251.0L453,250.4L454,250.4L454,254.2L455,254.2L455,263.9L456,263.9L456,263.9L457,263.9L457,269.6L458,269.6L458,240.6L459,240.6L459,240.6L460,240.6L460,240.6L461,240.6L461,236.1L462,236.1L462,236.1L463,236.1L463,235.2L464,235.2L464,226.6L465,226.6L465,224.5L466,224.5L466,224.5L467,224.5L467,233.6L468,233.6L468,236.1L469,236.1L469,233.9L470,233.9L470,233.9L471,233.9L471,222.4L472,222.4L472,217.1L473,217.1L473,216.8L474,216.8L474,216.8L475,216.8L475,227.5L476,227.5L476,218.5L477,218.5L477,213.8L478,213.8L478,213.8L479,213.8L479,215.2L480,215.2L480,233.0L481,233.0L481,231.0L482,231.0L482,229.3L483,229.3L483,229.3L484,229.3L484,223.6L485,223.6L485,223.6L486,223.6L486,223.6L487,223.6L487,231.6L488,231.6L488,239.5L489,239.5L489,238.5L490,238.5L490,247.4L491,247.4L491,247.9L492,247.9L492,248.0L493,248.0L493,246.0L494,246.0L494,246.0L495,246.0L495,245.0L496,245.0L496,239.1L497,239.1L497,239.1L498,239.1L498,239.1L499,239.1L499,238.5L500,238.5L500,238.5L501,238.5L501,245.2L502,245.2L502,245.3L503,245.3L503,256.4L504,256.4L504,252.0L505,252.0L505,225.1L506,225.1L506,225.1L507,225.1L507,220.8L508,220.8L508,220.5L509,220.5L509,218.9L510,218.9L510,212.6L511,212.6L511,211.2L512,211.2L512,211.2L513,211.2L513,227.1L514,227.1L514,227.3L515,227.3L515,226.6L516,226.6L516,226.6L517,226.6L517,226.6L518,226.6L518,226.3L519,226.3L519,226.7L520,226.7L520,227.4L521,227.4L521,227.4L522,227.4L522,228.6L523,228.6L523,233.1L524,233.1L524,233.1L525,233.1L525,231.6L526,231.6L526,247.2L527,247.2L527,247.2L528,247.2L528,243.4L529,243.4L529,232.9L530,232.9L530,232.7L531,232.7L531,232.7L532,232.7L532,233.6L533,233.6L533,248.1L534,248.1L534,248.8L535,248.8L535,248.8L536,248.8L536,264.4L537,264.4L537,264.3L538,264.3L538,264.3L539,264.3L539,269.9L540,269.9L540,269.9L541,269.9L541,244.9L542,244.9L542,244.9L543,244.9L543,243.1L544,243.1L544,243.1L545,243.1L545,251.7L546,251.7L546,251.7L547,251.7L547,264.2L548,264.2L548,269.8L549,269.8L549,268.4L550,268.4L550,247.7L551,247.7L551,244.6L552,244.6L552,247.6L553,247.6L553,247.6L554,247.6L554,225.3L555,225.3L555,225.0L556,225.0L556,222.2L557,222.2L557,222.2L558,222.2L558,231.6L559,231.6L559,231.6L560,231.6L560,217.5L561,217.5L561,217.5L562,217.5L562,217.5L563,217.5L563,217.8L564,217.8L564,225.0L565,225.0L565,226.1L566,226.1L566,221.6L567,221.6L567,221.0L568,221.0L568,221.0L569,221.0L569,221.7L570,221.7L570,237.3L571,237.3L571,236.1L572,236.1L572,236.1L573,236.1L573,247.2L574,247.2L574,248.3L575,248.3L575,241.6L576,241.6L576,241.6L577,241.6L577,240.7L578,240.7L578,237.8L579,237.8L579,241.7L580,241.7L580,241.7L581,241.7L581,241.7L582,241.7L582,250.1L583,250.1L583,250.1L584,250.1L584,250.1L585,250.1L585,257.2L586,257.2L586,258.5L587,258.5L587,247.7L588,247.7L588,247.7L589,247.7L589,247.7L590,247.7L590,233.8L591,233.8L591,233.8L592,233.8L592,233.8L593,233.8L593,233.9L594,233.9L594,245.1L595,245.1L595,245.1L596,245.1L596,248.5L597,248.5L597,254.3L598,254.3L598,243.6L599,243.6L599,218.6L600,218.6L600,218.6L601,218.6L601,218.6L602,218.6L602,217.1L603,217.1L603,217.1L604,217.1L604,217.1L605,217.1L605,216.5L606,216.5L606,219.4L607,219.4L607,227.8L608,227.8L608,227.8L609,227.8L609,227.3L610,227.3L610,236.2L611,236.2L611,236.4L612,236.4L612,229.7L613,229.7L613,229.7L614,229.7L614,230.0L615,230.0L615,228.9L616,228.9L616,228.4L617,228.4L617,225.3L618,225.3L618,237.5L619,237.5L619,241.3L620,241.3L620,241.3L621,241.3L621,251.9L622,251.9L622,251.9L623,251.9L623,252.3L624,252.3L624,259.9L625,259.9L625,263.5L626,263.5L626,263.0L627,263.0L627,263.6L628,263.6L628,270.3L629,270.3L629,270.3L630,270.3L630,270.8L631,270.8L631,268.7L632,268.7L632,267.5L633,267.5L633,267.5L634,267.5L634,264.5L635,264.5L635,251.7L636,251.7L636,251.7L637,251.7L637,249.5L638,249.5L638,248.6L639,248.6L639,250.7L640,250.7L640,270.9L641,270.9L641,270.9L642,270.9L642,277.5L643,277.5L643,276.3L644,276.3L644,277.6L645,277.6L645,271.6L646,271.6L646,269.6L647,269.6L647,231.6L648,231.6L648,232.2L649,232.2L649,232.2L650,232.2L650,233.8L651,233.8L651,234.0L652,234.0L652,234.0L653,234.0L653,236.7L654,236.7L654,237.5L655,237.5L655,237.5L656,237.5L656,236.6L657,236.6L657,238.9L658,238.9L658,238.3L659,238.3L659,231.6L660,231.6L660,231.6L661,231.6L661,231.7L662,231.7L662,228.7L663,228.7L663,228.5L664,228.5L664,228.5L665,228.5L665,254.2L666,254.2L666,254.1L667,254.1L667,254.1L668,254.1L668,254.0L669,254.0L669,254.0L670,254.0L670,254.5L671,254.5L671,256.7L672,256.7L672,256.7L673,256.7L673,256.1L674,256.1L674,246.1L675,246.1L675,246.1L676,246.1L676,246.7L677,246.7L677,246.5L678,246.5L678,254.3L679,254.3L679,254.8L680,254.8L680,254.8L681,254.8L681,248.1L682,248.1L682,247.4L683,247.4L683,247.4L684,247.4L684,247.9L685,247.9L685,247.9L686,247.9L686,257.2L687,257.2L687,257.2L688,257.2L688,257.2L689,257.2L689,258.9L690,258.9L690,258.9L691,258.9L691,250.3L692,250.3L692,237.6L693,237.6L693,236.3L694,236.3L694,224.0L695,224.0L695,224.1L696,224.1L696,219.6L697,219.6L697,219.4L698,219.4L698,222.7L699,222.7L699,218.2L700,218.2L700,218.5L701,218.5L701,218.5L702,218.5L702,230.3L703,230.3L703,237.0L704,237.0L704,215.8L705,215.8L705,215.0L706,215.0L706,215.0L707,215.0L707,214.9L708,214.9L708,225.0L709,225.0L709,225.0L710,225.0L710,238.4L711,238.4L711,238.4L712,238.4L712,238.4L713,238.4L713,249.5L714,249.5L714,249.5L715,249.5L715,246.5L716,246.5L716,245.4L717,245.4L717,245.4L718,245.4L718,245.4L719,245.4L719,251.9L720,251.9L720,251.7L721,251.7L721,251.7L722,251.7L722,254.0L723,254.0L723,255.2L724,255.2L724,264.1L725,264.1L725,260.8L726,260.8L726,261.4L727,261.4L727,263.6L728,263.6L728,263.6L729,263.6L729,259.3L730,259.3L730,259.3L731,259.3L731,259.3L732,259.3L732,261.6L733,261.6L733,261.6L734,261.6L734,261.3L735,261.3L735,261.3L736,261.3L736,266.2L737,266.2L737,266.2L738,266.2L738,280.2L739,280.2L739,259.1L740,259.1L740,250.4L741,250.4L741,236.3L742,236.3L742,236.3L743,236.3L743,225.1L744,225.1L744,224.9L745,224.9L745,224.9L746,224.9L746,227.6L747,227.6L747,227.6L748,227.6L748,246.0L749,246.0L749,246.0L750,246.0L750,234.8L751,234.8L751,234.0L752,234.0L752,234.7L753,234.7L753,233.7L754,233.7L754,233.6L755,233.6L755,232.7L756,232.7L756,232.7L757,232.7L757,232.7L758,232.7L758,233.8L759,233.8L759,233.8L760,233.8L760,239.9L761,239.9L761,245.1L762,245.1L762,280.4L763,280.4L763,254.0L764,254.0L764,251.7L765,251.7L765,251.7L766,251.7L766,249.8L767,249.8L767,249.8L768,249.8L768,249.8L769,249.8L769,253.6L770,253.6L770,253.9L771,253.9L771,253.9L772,253.9L772,256.9L773,256.9L773,256.9L774,256.9L774,254.6L775,254.6L775,255.3L776,255.3L776,226.3L777,226.3L777,226.3L778,226.3L778,224.1L779,224.1L779,224.1L780,224.1L780,223.8L781,223.8L781,223.8L782,223.8L782,236.2L783,236.2L783,236.2L784,236.2L784,254.0L785,254.0L785,254.2L786,254.2L786,254.3L787,254.3L787,254.2L788,254.2L788,242.7L789,242.7L789,227.2L790,227.2L790,227.5L791,227.5L791,222.0L792,222.0L792,221.7L793,221.7L793,221.6L794,221.6L794,233.9L795,233.9L795,233.9L796,233.9L796,236.5L797,236.5L797,235.7L798,235.7L798,233.9L799,233.9L799,233.9L800,233.9L800,221.6L801,221.6L801,221.6L802,221.6L802,222.5L803,222.5L803,225.8L804,225.8L804,227.2L805,227.2L805,227.2L806,227.2L806,245.0L807,245.0L807,263.5L808,263.5L808,263.5L809,263.5L809,285.1L810,285.1L810,269.5L811,269.5L811,268.0L812,268.0L812,268.9L813,268.9L813,271.2L814,271.2L814,271.2L815,271.2L815,275.3L816,275.3L816,275.2L817,275.2L817,279.0L818,279.0L818,279.6L819,279.6L819,279.1L820,279.1L820,294.7L821,294.7L821,290.3L822,290.3L822,290.5L823,290.5L823,283.8L824,283.8L824,283.8L825,283.8L825,280.3L826,280.3L826,280.3L827,280.3L827,280.3L828,280.3L828,283.6L829,283.6L829,288.4L830,288.4L830,288.4L831,288.4L831,294.3L832,294.3L832,298.2L833,298.2L833,287.0L834,287.0L834,279.1L835,279.1L835,271.3L836,271.3L836,265.4L837,265.4L837,259.3L838,259.3L838,253.8L839,253.8L839,253.5L840,253.5L840,253.5L841,253.5L841,267.1L842,267.1L842,267.1L843,267.1L843,278.2L844,278.2L844,274.7L845,274.7L845,274.7L846,274.7L846,274.5L847,274.5L847,271.2L848,271.2L848,271.2L849,271.2L849,263.1L850,263.1L850,263.1L851,263.1L851,263.4L852,263.4L852,270.6L853,270.6L853,270.3L854,270.3L854,288.1L855,288.1L855,306.0L856,306.0L856,305.9L857,305.9L857,319.3L858,319.3L858,319.5L859,319.5L859,333.4L858,333.4L858,333.0L857,333.0L857,382.1L856,382.1L856,382.1L855,382.1L855,383.2L854,383.2L854,384.6L853,384.6L853,384.5L852,384.5L852,375.6L851,375.6L851,375.8L850,375.8L850,349.0L849,349.0L849,382.4L848,382.4L848,381.4L847,381.4L847,381.4L846,381.4L846,379.6L845,379.6L845,373.5L844,373.5L844,375.1L843,375.1L843,375.1L842,375.1L842,375.2L841,375.2L841,364.0L840,364.0L840,364.6L839,364.6L839,349.0L838,349.0L838,380.1L837,380.1L837,407.9L836,407.9L836,412.3L835,412.3L835,418.1L834,418.1L834,427.1L833,427.1L833,427.1L832,427.1L832,437.1L831,437.1L831,437.0L830,437.0L830,424.8L829,424.8L829,424.9L828,424.9L828,408.9L827,408.9L827,402.9L826,402.9L826,390.5L825,390.5L825,390.5L824,390.5L824,388.3L823,388.3L823,390.7L822,390.7L822,404.1L821,404.1L821,402.2L820,402.2L820,411.2L819,411.2L819,411.4L818,411.4L818,411.4L817,411.4L817,407.7L816,407.7L816,386.3L815,386.3L815,386.3L814,386.3L814,386.3L813,386.3L813,384.6L812,384.6L812,385.8L811,385.8L811,386.8L810,386.8L810,395.5L809,395.5L809,395.7L808,395.7L808,397.0L807,397.0L807,397.0L806,397.0L806,390.5L805,390.5L805,374.8L804,374.8L804,377.3L803,377.3L803,343.9L802,343.9L802,355.0L801,355.0L801,353.2L800,353.2L800,361.9L799,361.9L799,364.3L798,364.3L798,364.6L797,364.6L797,364.6L796,364.6L796,362.4L795,362.4L795,363.5L794,363.5L794,363.5L793,363.5L793,367.4L792,367.4L792,367.4L791,367.4L791,367.4L790,367.4L790,386.9L789,386.9L789,388.4L788,388.4L788,411.4L787,411.4L787,411.4L786,411.4L786,411.4L785,411.4L785,404.8L784,404.8L784,404.8L783,404.8L783,400.3L782,400.3L782,400.2L781,400.2L781,387.7L780,387.7L780,371.7L779,371.7L779,376.8L778,376.8L778,376.8L777,376.8L777,378.0L776,378.0L776,378.0L775,378.0L775,393.6L774,393.6L774,392.2L773,392.2L773,392.2L772,392.2L772,386.9L771,386.9L771,386.9L770,386.9L770,379.9L769,379.9L769,395.3L768,395.3L768,395.3L767,395.3L767,397.6L766,397.6L766,395.5L765,395.5L765,395.5L764,395.5L764,394.1L763,394.1L763,407.5L762,407.5L762,407.5L761,407.5L761,407.1L760,407.1L760,409.3L759,409.3L759,408.3L758,408.3L758,408.3L757,408.3L757,379.3L756,379.3L756,380.0L755,380.0L755,375.6L754,375.6L754,386.1L753,386.1L753,386.8L752,386.8L752,399.6L751,399.6L751,402.6L750,402.6L750,402.6L749,402.6L749,402.0L748,402.0L748,388.6L747,388.6L747,387.8L746,387.8L746,378.0L745,378.0L745,357.9L744,357.9L744,380.3L743,380.3L743,420.4L742,420.4L742,420.0L741,420.0L741,420.1L740,420.1L740,421.1L739,421.1L739,420.6L738,420.6L738,421.5L737,421.5L737,418.6L736,418.6L736,418.1L735,418.1L735,418.1L734,418.1L734,391.1L733,391.1L733,407.9L732,407.9L732,408.6L731,408.6L731,409.1L730,409.1L730,409.1L729,409.1L729,404.8L728,404.8L728,404.8L727,404.8L727,405.6L726,405.6L726,406.5L725,406.5L725,406.3L724,406.3L724,406.0L723,406.0L723,394.9L722,394.9L722,396.3L721,396.3L721,402.6L720,402.6L720,402.6L719,402.6L719,402.6L718,402.6L718,393.6L717,393.6L717,392.7L716,392.7L716,389.2L715,389.2L715,404.8L714,404.8L714,403.5L713,403.5L713,403.5L712,403.5L712,393.3L711,393.3L711,384.0L710,384.0L710,383.9L709,383.9L709,372.7L708,372.7L708,374.9L707,374.9L707,375.6L706,375.6L706,388.7L705,388.7L705,388.7L704,388.7L704,388.7L703,388.7L703,386.0L702,386.0L702,385.7L701,385.7L701,386.2L700,386.2L700,377.2L699,377.2L699,377.2L698,377.2L698,380.2L697,380.2L697,380.2L696,380.2L696,397.8L695,397.8L695,397.8L694,397.8L694,411.2L693,411.2L693,411.5L692,411.5L692,415.9L691,415.9L691,415.9L690,415.9L690,415.9L689,415.9L689,393.6L688,393.6L688,393.6L687,393.6L687,384.7L686,384.7L686,375.8L685,375.8L685,396.3L684,396.3L684,396.3L683,396.3L683,396.8L682,396.8L682,396.3L681,396.3L681,396.8L680,396.8L680,396.6L679,396.6L679,393.3L678,393.3L678,393.3L677,393.3L677,392.2L676,392.2L676,392.2L675,392.2L675,416.8L674,416.8L674,420.3L673,420.3L673,420.4L672,420.4L672,420.4L671,420.4L671,403.5L670,403.5L670,407.9L669,407.9L669,407.9L668,407.9L668,408.1L667,408.1L667,408.1L666,408.1L666,408.7L665,408.7L665,408.7L664,408.7L664,393.1L663,393.1L663,393.4L662,393.4L662,384.5L661,384.5L661,386.8L660,386.8L660,386.8L659,386.8L659,387.4L658,387.4L658,387.9L657,387.9L657,387.9L656,387.9L656,389.1L655,389.1L655,384.6L654,384.6L654,384.6L653,384.6L653,377.6L652,377.6L652,382.1L651,382.1L651,381.2L650,381.2L650,396.0L649,396.0L649,401.3L648,401.3L648,424.8L647,424.8L647,431.5L646,431.5L646,431.7L645,431.7L645,444.3L644,444.3L644,444.3L643,444.3L643,431.0L642,431.0L642,431.0L641,431.0L641,417.6L640,417.6L640,418.0L639,418.0L639,412.3L638,412.3L638,418.5L637,418.5L637,430.7L636,430.7L636,428.9L635,428.9L635,431.1L634,431.1L634,431.1L633,431.1L633,436.1L632,436.1L632,435.6L631,435.6L631,435.6L630,435.6L630,420.3L629,420.3L629,418.2L628,418.2L628,416.9L627,416.9L627,414.7L626,414.7L626,415.9L625,415.9L625,409.2L624,409.2L624,415.9L623,415.9L623,416.5L622,416.5L622,415.3L621,415.3L621,407.1L620,407.1L620,406.5L619,406.5L619,404.2L618,404.2L618,404.2L617,404.2L617,403.3L616,403.3L616,381.9L615,381.9L615,375.2L614,375.2L614,368.8L613,368.8L613,368.8L612,368.8L612,370.8L611,370.8L611,370.0L610,370.0L610,374.0L609,374.0L609,373.6L608,373.6L608,379.1L607,379.1L607,393.2L606,393.2L606,395.2L605,395.2L605,392.7L604,392.7L604,393.9L603,393.9L603,386.7L602,386.7L602,389.2L601,389.2L601,398.5L600,398.5L600,424.9L599,424.9L599,423.9L598,423.9L598,423.9L597,423.9L597,408.8L596,408.8L596,409.2L595,409.2L595,409.2L594,409.2L594,409.2L593,409.2L593,398.1L592,398.1L592,398.0L591,398.0L591,395.4L590,395.4L590,393.6L589,393.6L589,396.8L588,396.8L588,397.3L587,397.3L587,400.6L586,400.6L586,403.4L585,403.4L585,403.4L584,403.4L584,403.4L583,403.4L583,404.6L582,404.6L582,404.6L581,404.6L581,408.6L580,408.6L580,398.5L579,398.5L579,399.9L578,399.9L578,399.9L577,399.9L577,400.1L576,400.1L576,393.6L575,393.6L575,407.0L574,407.0L574,407.0L573,407.0L573,406.3L572,406.3L572,401.6L571,401.6L571,399.2L570,399.2L570,391.4L569,391.4L569,388.8L568,388.8L568,388.8L567,388.8L567,378.0L566,378.0L566,377.6L565,377.6L565,370.9L564,370.9L564,391.0L563,391.0L563,390.0L562,390.0L562,391.3L561,391.3L561,391.3L560,391.3L560,373.5L559,373.5L559,395.8L558,395.8L558,395.8L557,395.8L557,375.1L556,375.1L556,413.1L555,413.1L555,413.1L554,413.1L554,435.6L553,435.6L553,435.6L552,435.6L552,435.6L551,435.6L551,422.2L550,422.2L550,417.5L549,417.5L549,417.6L548,417.6L548,403.3L547,403.3L547,403.3L546,403.3L546,396.8L545,396.8L545,403.5L544,403.5L544,404.2L543,404.2L543,404.2L542,404.2L542,413.2L541,413.2L541,413.6L540,413.6L540,413.6L539,413.6L539,413.1L538,413.1L538,403.3L537,403.3L537,403.3L536,403.3L536,403.4L535,403.4L535,395.6L534,395.6L534,395.8L533,395.8L533,392.0L532,392.0L532,387.0L531,387.0L531,404.8L530,404.8L530,404.8L529,404.8L529,406.7L528,406.7L528,407.4L527,407.4L527,407.4L526,407.4L526,404.9L525,404.9L525,383.7L524,383.7L524,386.2L523,386.2L523,395.6L522,395.6L522,395.6L521,395.6L521,395.6L520,395.6L520,384.7L519,384.7L519,384.7L518,384.7L518,384.7L517,384.7L517,368.9L516,368.9L516,367.7L515,367.7L515,384.5L514,384.5L514,383.2L513,383.2L513,383.4L512,383.4L512,373.4L511,373.4L511,363.3L510,363.3L510,370.2L509,370.2L509,390.0L508,390.0L508,399.9L507,399.9L507,400.1L506,400.1L506,405.7L505,405.7L505,405.8L504,405.8L504,405.8L503,405.8L503,412.1L502,412.1L502,412.1L501,412.1L501,412.1L500,412.1L500,413.5L499,413.5L499,411.8L498,411.8L498,409.7L497,409.7L497,396.9L496,396.9L496,402.3L495,402.3L495,404.1L494,404.1L494,404.1L493,404.1L493,399.6L492,399.6L492,399.3L491,399.3L491,411.9L490,411.9L490,411.9L489,411.9L489,411.7L488,411.7L488,404.5L487,404.5L487,405.1L486,405.1L486,405.1L485,405.1L485,389.5L484,389.5L484,400.7L483,400.7L483,399.5L482,399.5L482,399.7L481,399.7L481,397.4L480,397.4L480,397.5L479,397.5L479,393.1L478,393.1L478,393.4L477,393.4L477,394.6L476,394.6L476,394.6L475,394.6L475,394.9L474,394.9L474,392.7L473,392.7L473,392.7L472,392.7L472,388.5L471,388.5L471,388.5L470,388.5L470,383.4L469,383.4L469,396.8L468,396.8L468,405.0L467,405.0L467,405.0L466,405.0L466,404.2L465,404.2L465,380.6L464,380.6L464,380.6L463,380.6L463,377.2L462,377.2L462,372.9L461,372.9L461,415.3L460,415.3L460,416.4L459,416.4L459,419.8L458,419.8L458,425.9L457,425.9L457,425.9L456,425.9L456,425.9L455,425.9L455,411.6L454,411.6L454,411.6L453,411.6L453,411.6L452,411.6L452,404.9L451,404.9L451,404.9L450,404.9L450,401.6L449,401.6L449,403.1L448,403.1L448,408.3L447,408.3L447,409.6L446,409.6L446,411.8L445,411.8L445,411.5L444,411.5L444,411.5L443,411.5L443,408.8L442,408.8L442,400.7L441,400.7L441,399.6L440,399.6L440,400.8L439,400.8L439,394.0L438,394.0L438,394.0L437,394.0L437,394.0L436,394.0L436,391.7L435,391.7L435,391.7L434,391.7L434,391.7L433,391.7L433,391.4L432,391.4L432,389.6L431,389.6L431,389.6L430,389.6L430,368.5L429,368.5L429,364.8L428,364.8L428,364.8L427,364.8L427,362.4L426,362.4L426,362.4L425,362.4L425,376.2L424,376.2L424,376.2L423,376.2L423,376.2L422,376.2L422,376.2L421,376.2L421,371.5L420,371.5L420,371.8L419,371.8L419,373.7L418,373.7L418,374.0L417,374.0L417,376.0L416,376.0L416,375.1L415,375.1L415,375.1L414,375.1L414,401.9L413,401.9L413,402.9L412,402.9L412,410.7L411,410.7L411,410.9L410,410.9L410,410.9L409,410.9L409,411.5L408,411.5L408,405.3L407,405.3L407,404.9L406,404.9L406,389.3L405,389.3L405,389.3L404,389.3L404,388.1L403,388.1L403,389.5L402,389.5L402,396.5L401,396.5L401,398.0L400,398.0L400,398.0L399,398.0L399,397.2L398,397.2L398,384.3L397,384.3L397,392.1L396,392.1L396,392.1L395,392.1L395,392.0L394,392.0L394,393.0L393,393.0L393,393.0L392,393.0L392,384.3L391,384.3L391,384.3L390,384.3L390,384.7L389,384.7L389,378.4L388,378.4L388,378.3L387,378.3L387,373.8L386,373.8L386,373.1L385,373.1L385,366.4L384,366.4L384,367.3L383,367.3L383,369.6L382,369.6L382,369.3L381,369.3L381,368.9L380,368.9L380,368.9L379,368.9L379,366.7L378,366.7L378,367.3L377,367.3L377,367.3L376,367.3L376,366.5L375,366.5L375,364.7L374,364.7L374,375.8L373,375.8L373,375.8L372,375.8L372,376.2L371,376.2L371,373.3L370,373.3L370,360.6L369,360.6L369,360.6L368,360.6L368,356.1L367,356.1L367,407.0L366,407.0L366,418.8L365,418.8L365,426.4L364,426.4L364,426.4L363,426.4L363,417.5L362,417.5L362,418.3L361,418.3L361,418.3L360,418.3L360,409.4L359,409.4L359,408.6L358,408.6L358,386.2L357,386.2L357,386.1L356,386.1L356,377.1L355,377.1L355,381.6L354,381.6L354,382.5L353,382.5L353,386.5L352,386.5L352,395.6L351,395.6L351,395.6L350,395.6L350,395.6L349,395.6L349,392.5L348,392.5L348,392.5L347,392.5L347,375.9L346,375.9L346,375.6L345,375.6L345,357.8L344,357.8L344,360.6L343,360.6L343,363.6L342,363.6L342,363.6L341,363.6L341,379.9L340,379.9L340,379.9L339,379.9L339,382.9L338,382.9L338,382.9L337,382.9L337,382.9L336,382.9L336,358.7L335,358.7L335,358.7L334,358.7L334,354.0L333,354.0L333,353.7L332,353.7L332,358.2L331,358.2L331,357.9L330,357.9L330,365.7L329,365.7L329,365.7L328,365.7L328,365.7L327,365.7L327,357.7L326,357.7L326,357.7L325,357.7L325,353.2L324,353.2L324,352.9L323,352.9L323,352.9L322,352.9L322,344.0L321,344.0L321,373.0L320,373.0L320,373.0L319,373.0L319,384.2L318,384.2L318,384.3L317,384.3L317,392.5L316,392.5L316,392.3L315,392.3L315,392.3L314,392.3L314,386.9L313,386.9L313,382.7L312,382.7L312,373.8L311,373.8L311,366.1L310,366.1L310,366.1L309,366.1L309,368.3L308,368.3L308,369.5L307,369.5L307,369.5L306,369.5L306,369.5L305,369.5L305,364.6L304,364.6L304,364.6L303,364.6L303,380.3L302,380.3L302,379.3L301,379.3L301,379.3L300,379.3L300,378.1L299,378.1L299,378.4L298,378.4L298,381.9L297,381.9L297,385.8L296,385.8L296,385.8L295,385.8L295,409.2L294,409.2L294,409.2L293,409.2L293,409.0L292,409.0L292,409.7L291,409.7L291,412.3L290,412.3L290,412.7L289,412.7L289,412.7L288,412.7L288,384.8L287,384.8L287,384.7L286,384.7L286,390.3L285,390.3L285,390.3L284,390.3L284,391.5L283,391.5L283,391.2L282,391.2L282,385.9L281,385.9L281,378.4L280,378.4L280,382.9L279,382.9L279,382.9L278,382.9L278,383.6L277,383.6L277,394.8L276,394.8L276,394.8L275,394.8L275,394.7L274,394.7L274,422.5L273,422.5L273,422.5L272,422.5L272,423.1L271,423.1L271,436.5L270,436.5L270,437.7L269,437.7L269,437.7L268,437.7L268,437.1L267,437.1L267,423.7L266,423.7L266,423.7L265,423.7L265,422.5L264,422.5L264,412.5L263,412.5L263,417.4L262,417.4L262,418.8L261,418.8L261,418.8L260,418.8L260,418.8L259,418.8L259,417.2L258,417.2L258,417.6L257,417.6L257,423.1L256,423.1L256,423.1L255,423.1L255,423.1L254,423.1L254,423.4L253,423.4L253,420.0L252,420.0L252,414.5L251,414.5L251,414.8L250,414.8L250,414.8L249,414.8L249,405.9L248,405.9L248,405.3L247,405.3L247,405.3L246,405.3L246,405.1L245,405.1L245,405.1L244,405.1L244,394.0L243,394.0L243,397.1L242,397.1L242,400.9L241,400.9L241,404.1L240,404.1L240,404.1L239,404.1L239,393.0L238,393.0L238,389.3L237,389.3L237,389.3L236,389.3L236,383.7L235,383.7L235,384.6L234,384.6L234,384.8L233,384.8L233,386.7L232,386.7L232,386.7L231,386.7L231,385.3L230,385.3L230,385.3L229,385.3L229,384.2L228,384.2L228,383.5L227,383.5L227,400.3L226,400.3L226,401.6L225,401.6L225,421.6L224,421.6L224,448.0L223,448.0L223,447.0L222,447.0L222,445.5L221,445.5L221,448.9L220,448.9L220,432.1L219,432.1L219,423.0L218,423.0L218,423.0L217,423.0L217,419.3L216,419.3L216,418.7L215,418.7L215,418.7L214,418.7L214,408.0L213,408.0L213,408.0L212,408.0L212,403.5L211,403.5L211,403.6L210,403.6L210,403.7L209,403.7L209,397.0L208,397.0L208,396.3L207,396.3L207,396.3L206,396.3L206,394.1L205,394.1L205,393.0L204,393.0L204,392.6L203,392.6L203,406.0L202,406.0L202,406.0L201,406.0L201,405.6L200,405.6L200,405.6L199,405.6L199,401.1L198,401.1L198,400.4L197,400.4L197,400.4L196,400.4L196,395.9L195,395.9L195,396.1L194,396.1L194,378.3L193,378.3L193,390.4L192,390.4L192,390.4L191,390.4L191,390.4L190,390.4L190,390.4L189,390.4L189,379.2L188,379.2L188,379.2L187,379.2L187,378.8L186,378.8L186,376.6L185,376.6L185,374.4L184,374.4L184,373.8L183,373.8L183,365.2L182,365.2L182,368.4L181,368.4L181,359.5L180,359.5L180,404.1L179,404.1L179,401.2L178,401.2L178,428.0L177,428.0L177,428.0L176,428.0L176,429.5L175,429.5L175,410.1L174,410.1L174,410.1L173,410.1L173,410.1L172,410.1L172,397.0L171,397.0L171,397.0L170,397.0L170,397.0L169,397.0L169,385.4L168,385.4L168,385.4L167,385.4L167,385.4L166,385.4L166,378.6L165,378.6L165,378.6L164,378.6L164,366.3L163,366.3L163,367.4L162,367.4L162,368.0L161,368.0L161,368.0L160,368.0L160,376.8L159,376.8L159,376.7L158,376.7L158,376.7L157,376.7L157,385.9L156,385.9L156,385.9L155,385.9L155,386.0L154,386.0L154,386.0L153,386.0L153,368.1L152,368.1L152,369.8L151,369.8L151,367.3L150,367.3L150,362.6L149,362.6L149,362.6L148,362.6L148,354.2L147,354.2L147,354.2L146,354.2L146,344.7L145,344.7L145,344.7L144,344.7L144,344.6L143,344.6L143,341.2L142,341.2L142,341.2L141,341.2L141,341.3L140,341.3L140,337.9L139,337.9L139,337.9L138,337.9L138,336.4L137,336.4L137,335.1L136,335.1L136,329.9L135,329.9L135,329.9L134,329.9L134,332.8L133,332.8L133,345.8L132,345.8L132,344.5L131,344.5L131,350.1L130,350.1L130,351.1L129,351.1L129,351.1L128,351.1L128,347.6L127,347.6L127,342.7L126,342.7L126,343.5L125,343.5L125,337.9L124,337.9L124,338.7L123,338.7L123,341.2L122,341.2L122,341.2L121,341.2L121,341.2L120,341.2L120,328.6L119,328.6L119,327.5L118,327.5L118,327.5L117,327.5L117,319.0L116,319.0L116,319.0L115,319.0L115,324.6L114,324.6L114,324.5L113,324.5L113,324.5L112,324.5L112,325.7L111,325.7L111,326.5L110,326.5L110,326.5L109,326.5Z" fill="#00a651"/>
<rect x="108.5" y="5.6" width="750.0" height="600.4" fill="none" stroke="#14406c" stroke-width="3.2"/>
<line x1="630.8" y1="70.4" x2="697.2" y2="70.4" stroke="#f68d2b" stroke-width="5.4" stroke-linecap="round"/>
<line x1="630.8" y1="95.4" x2="697.2" y2="95.4" stroke="#00a651" stroke-width="5.4" stroke-linecap="round"/>
<line x1="630.8" y1="119.6" x2="697.2" y2="119.6" stroke="#14406c" stroke-width="5.4" stroke-linecap="round"/>
<text x="707.3" y="77.9" font-family="Liberation Sans, sans-serif" font-weight="bold" font-size="25" fill="#14406c">+125°C</text>
<text x="707.3" y="102.7" font-family="Liberation Sans, sans-serif" font-weight="bold" font-size="25" fill="#14406c">+25°C</text>
<text x="707.3" y="128.0" font-family="Liberation Sans, sans-serif" font-weight="bold" font-size="25" fill="#14406c">–40°C</text>
<text x="96.9" y="17.7" text-anchor="end" font-family="Liberation Sans, sans-serif" font-weight="bold" font-size="25.2" fill="#14406c">1.0</text>
<text x="96.9" y="77.2" text-anchor="end" font-family="Liberation Sans, sans-serif" font-weight="bold" font-size="25.2" fill="#14406c">0.8</text>
<text x="96.9" y="136.8" text-anchor="end" font-family="Liberation Sans, sans-serif" font-weight="bold" font-size="25.2" fill="#14406c">0.6</text>
<text x="96.9" y="196.3" text-anchor="end" font-family="Liberation Sans, sans-serif" font-weight="bold" font-size="25.2" fill="#14406c">0.4</text>
<text x="96.9" y="255.9" text-anchor="end" font-family="Liberation Sans, sans-serif" font-weight="bold" font-size="25.2" fill="#14406c">0.2</text>
<text x="96.9" y="315.4" text-anchor="end" font-family="Liberation Sans, sans-serif" font-weight="bold" font-size="25.2" fill="#14406c" style="fill:#111">0</text>
<text x="96.9" y="374.9" text-anchor="end" font-family="Liberation Sans, sans-serif" font-weight="bold" font-size="25.2" fill="#14406c">–0.2</text>
<text x="96.9" y="434.5" text-anchor="end" font-family="Liberation Sans, sans-serif" font-weight="bold" font-size="25.2" fill="#14406c">–0.4</text>
<text x="96.9" y="494.0" text-anchor="end" font-family="Liberation Sans, sans-serif" font-weight="bold" font-size="25.2" fill="#14406c">–0.6</text>
<text x="96.9" y="553.6" text-anchor="end" font-family="Liberation Sans, sans-serif" font-weight="bold" font-size="25.2" fill="#14406c">–0.8</text>
<text x="96.9" y="613.1" text-anchor="end" font-family="Liberation Sans, sans-serif" font-weight="bold" font-size="25.2" fill="#14406c">–1.0</text>
<text x="108.0" y="636.9" text-anchor="middle" font-family="Liberation Sans, sans-serif" font-weight="bold" font-size="24.4" fill="#14406c">0</text>
<text x="201.8" y="636.9" text-anchor="middle" font-family="Liberation Sans, sans-serif" font-weight="bold" font-size="24.4" fill="#14406c">32768</text>
<text x="295.5" y="636.9" text-anchor="middle" font-family="Liberation Sans, sans-serif" font-weight="bold" font-size="24.4" fill="#14406c">65536</text>
<text x="389.2" y="636.9" text-anchor="middle" font-family="Liberation Sans, sans-serif" font-weight="bold" font-size="24.4" fill="#14406c">98304</text>
<text x="483.0" y="636.9" text-anchor="middle" font-family="Liberation Sans, sans-serif" font-weight="bold" font-size="24.4" fill="#14406c">131072</text>
<text x="576.8" y="636.9" text-anchor="middle" font-family="Liberation Sans, sans-serif" font-weight="bold" font-size="24.4" fill="#14406c">163840</text>
<text x="670.5" y="636.9" text-anchor="middle" font-family="Liberation Sans, sans-serif" font-weight="bold" font-size="24.4" fill="#14406c">196608</text>
<text x="764.2" y="636.9" text-anchor="middle" font-family="Liberation Sans, sans-serif" font-weight="bold" font-size="24.4" fill="#14406c">229376</text>
<text x="858.0" y="636.9" text-anchor="middle" font-family="Liberation Sans, sans-serif" font-weight="bold" font-size="24.4" fill="#14406c">262144</text>
<text x="483.3" y="671.8" text-anchor="middle" font-family="Liberation Sans, sans-serif" font-weight="bold" font-size="24.4" fill="#14406c">CODE</text>
<text transform="translate(19.4,305.6) rotate(-90)" text-anchor="middle" letter-spacing="0.25" font-family="Liberation Sans, sans-serif" font-weight="bold" font-size="25.2" fill="#14406c">INL (LSB)</text>
<text x="714" y="663.0" font-family="Liberation Sans, sans-serif" font-size="19.25" fill="#c2e5b6">www.cntronics.com</text>
</svg></body></html>
